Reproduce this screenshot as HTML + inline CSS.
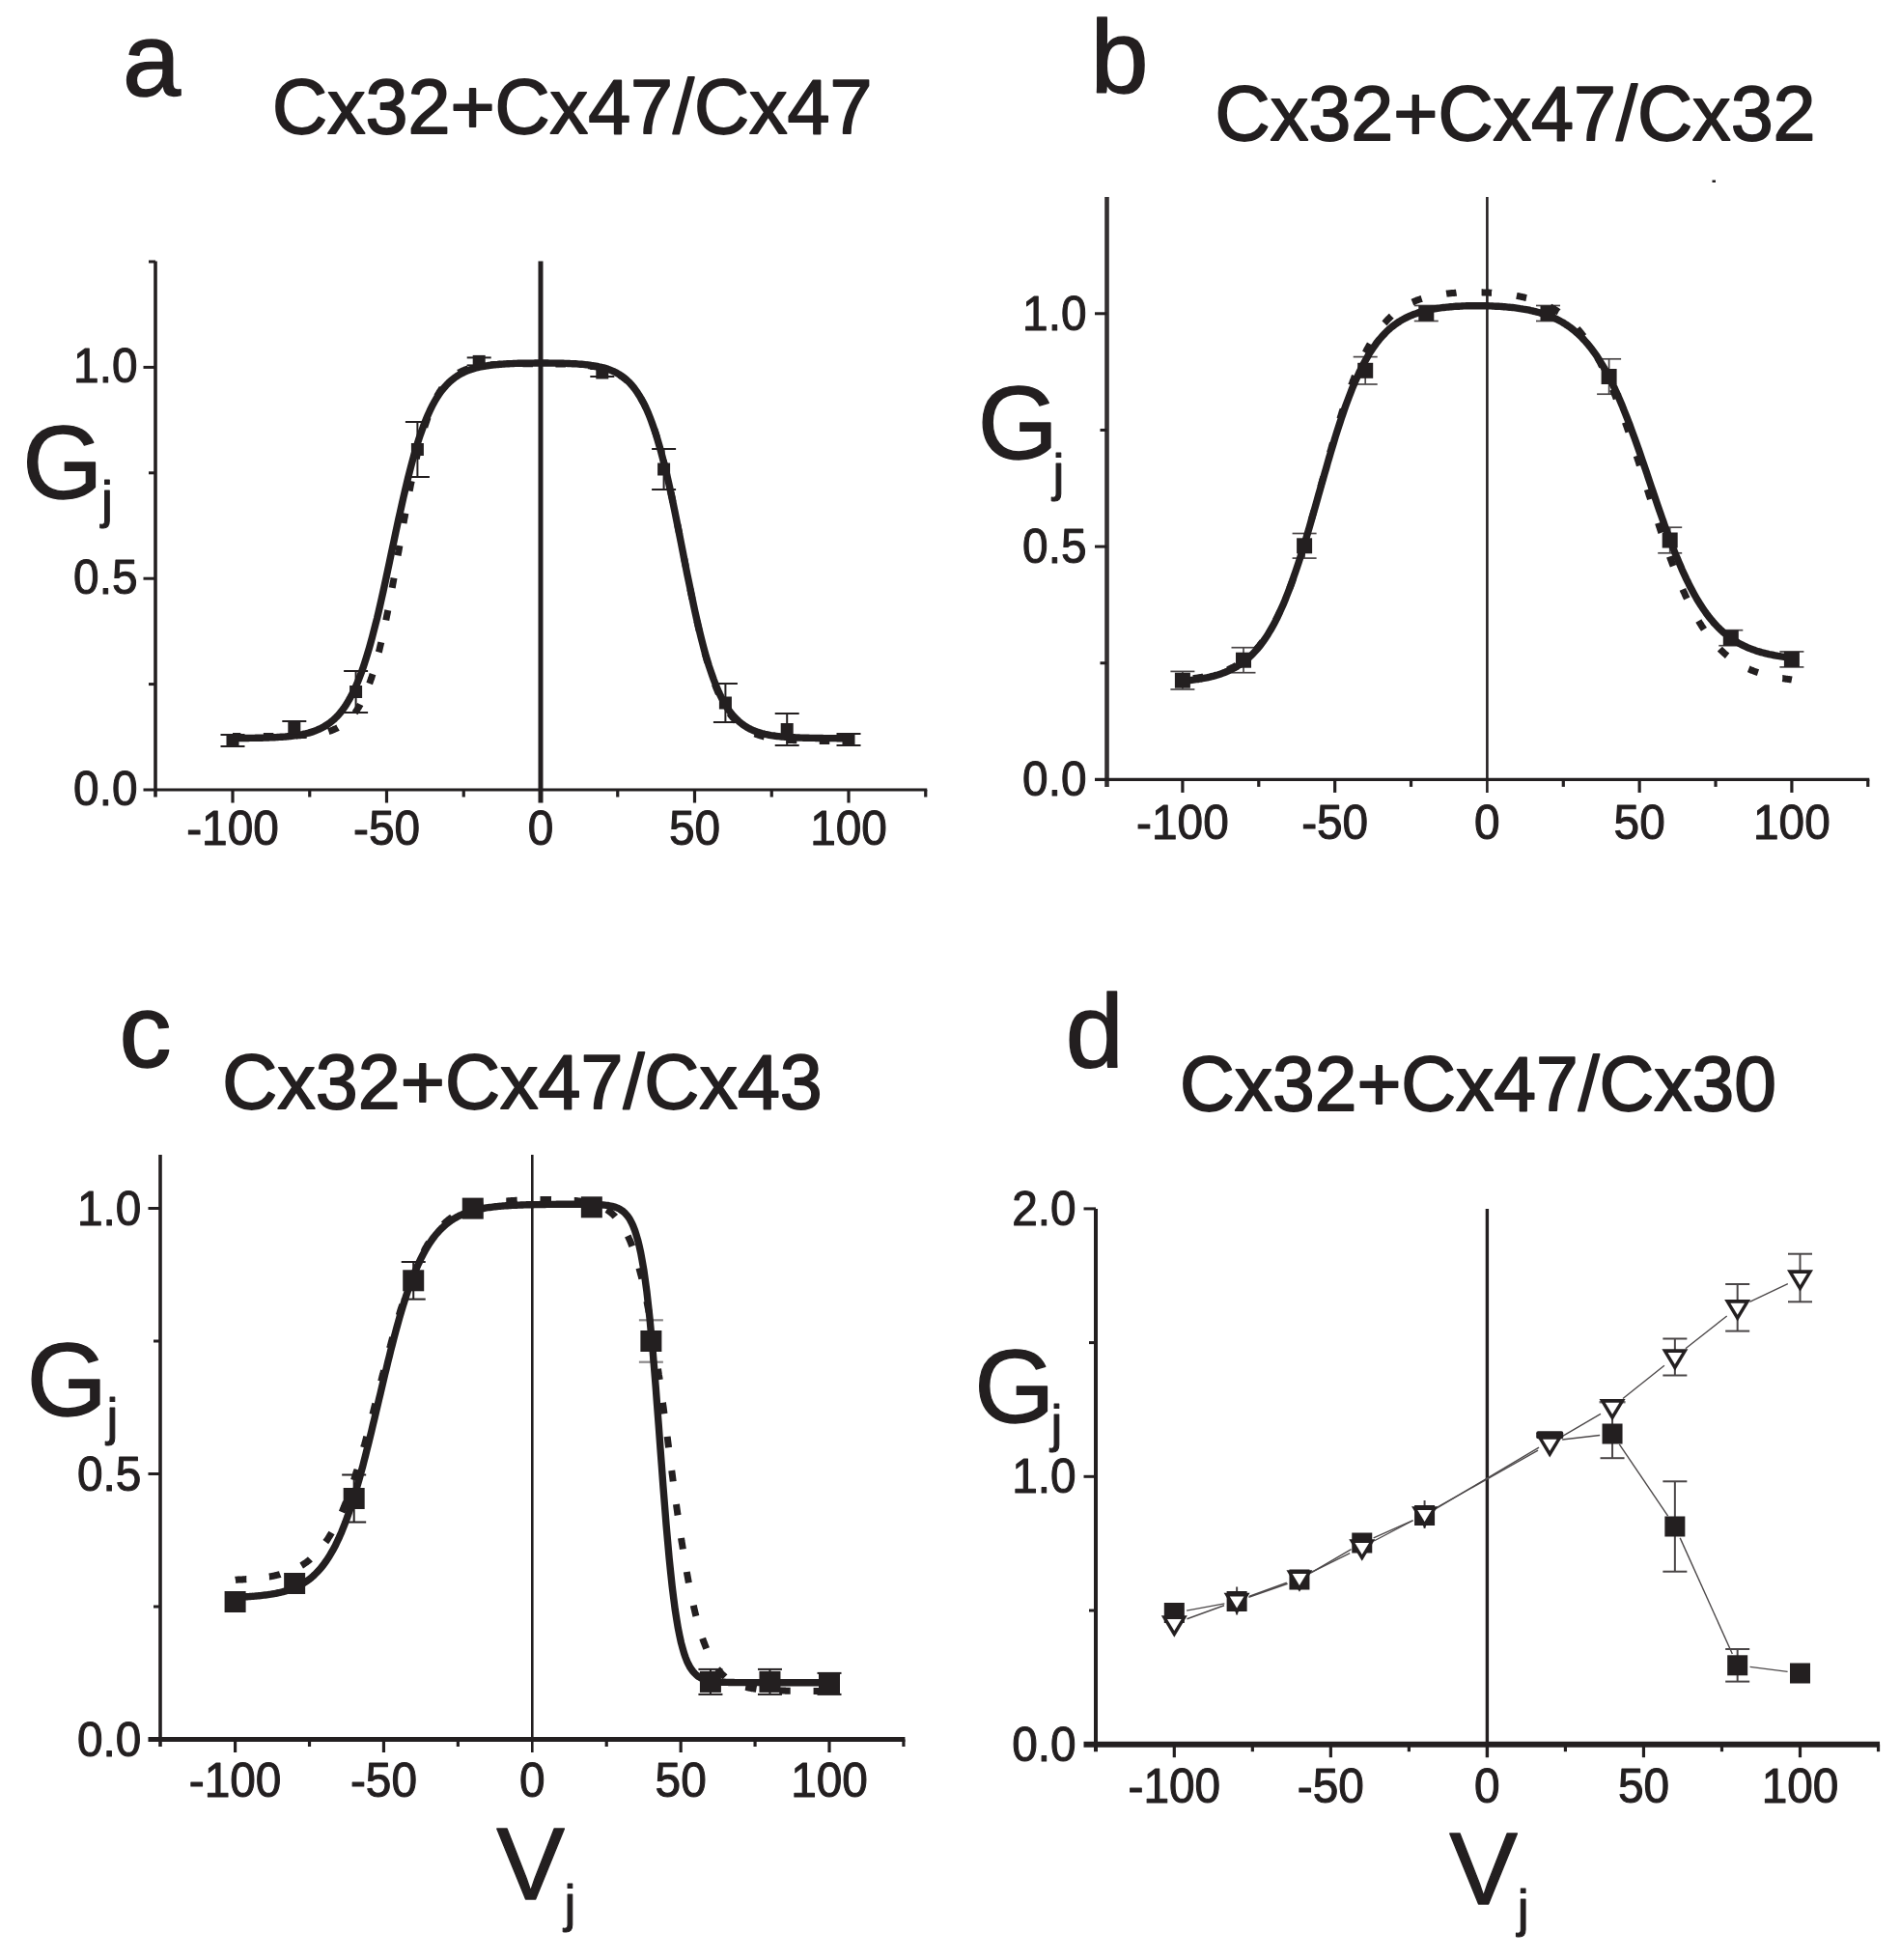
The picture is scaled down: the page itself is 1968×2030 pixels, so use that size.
<!DOCTYPE html>
<html lang="en"><head><meta charset="utf-8"><title>Gj-Vj relations</title>
<style>
html,body{margin:0;padding:0;background:#fff;}
svg{display:block;}
svg text{font-family:"Liberation Sans",sans-serif;fill:#231f20;stroke:#231f20;stroke-linejoin:round;}
</style></head><body>
<svg width="1968" height="2030" viewBox="0 0 1968 2030">
<rect width="1968" height="2030" fill="#fff"/>
<line x1="161.00" y1="270.50" x2="161.00" y2="825.50" stroke="#231f20" stroke-width="3.6" />
<line x1="148.50" y1="818.00" x2="960.25" y2="818.00" stroke="#231f20" stroke-width="3.2" />
<line x1="560.00" y1="270.50" x2="560.00" y2="831.50" stroke="#231f20" stroke-width="5.0" />
<text transform="translate(142.50 834.00) scale(0.985 1.04)" font-size="48.5" stroke-width="1.07" text-anchor="end" >0.0</text>
<line x1="148.50" y1="599.20" x2="161.00" y2="599.20" stroke="#231f20" stroke-width="3.0" />
<text transform="translate(142.50 615.20) scale(0.985 1.04)" font-size="48.5" stroke-width="1.07" text-anchor="end" >0.5</text>
<line x1="148.50" y1="380.40" x2="161.00" y2="380.40" stroke="#231f20" stroke-width="3.0" />
<text transform="translate(142.50 396.40) scale(0.985 1.04)" font-size="48.5" stroke-width="1.07" text-anchor="end" >1.0</text>
<line x1="154.00" y1="708.60" x2="161.00" y2="708.60" stroke="#231f20" stroke-width="3.0" />
<line x1="154.00" y1="489.80" x2="161.00" y2="489.80" stroke="#231f20" stroke-width="3.0" />
<line x1="154.00" y1="271.00" x2="161.00" y2="271.00" stroke="#231f20" stroke-width="3.0" />
<line x1="241.00" y1="818.00" x2="241.00" y2="831.50" stroke="#231f20" stroke-width="3.2" />
<line x1="400.50" y1="818.00" x2="400.50" y2="831.50" stroke="#231f20" stroke-width="3.2" />
<line x1="719.50" y1="818.00" x2="719.50" y2="831.50" stroke="#231f20" stroke-width="3.2" />
<line x1="879.00" y1="818.00" x2="879.00" y2="831.50" stroke="#231f20" stroke-width="3.2" />
<line x1="320.75" y1="818.00" x2="320.75" y2="825.50" stroke="#231f20" stroke-width="3.2" />
<line x1="480.25" y1="818.00" x2="480.25" y2="825.50" stroke="#231f20" stroke-width="3.2" />
<line x1="639.75" y1="818.00" x2="639.75" y2="825.50" stroke="#231f20" stroke-width="3.2" />
<line x1="799.25" y1="818.00" x2="799.25" y2="825.50" stroke="#231f20" stroke-width="3.2" />
<line x1="958.75" y1="818.00" x2="958.75" y2="825.50" stroke="#231f20" stroke-width="3.2" />
<text transform="translate(241.00 875.00) scale(0.985 1.04)" font-size="48.5" stroke-width="1.07" text-anchor="middle" >-100</text>
<text transform="translate(400.50 875.00) scale(0.985 1.04)" font-size="48.5" stroke-width="1.07" text-anchor="middle" >-50</text>
<text transform="translate(560.00 875.00) scale(0.985 1.04)" font-size="48.5" stroke-width="1.07" text-anchor="middle" >0</text>
<text transform="translate(719.50 875.00) scale(0.985 1.04)" font-size="48.5" stroke-width="1.07" text-anchor="middle" >50</text>
<text transform="translate(879.00 875.00) scale(0.985 1.04)" font-size="48.5" stroke-width="1.07" text-anchor="middle" >100</text>
<line x1="1146.50" y1="204.00" x2="1146.50" y2="814.90" stroke="#343031" stroke-width="4.6" />
<line x1="1134.00" y1="807.40" x2="1936.28" y2="807.40" stroke="#231f20" stroke-width="3.2" />
<line x1="1540.40" y1="204.00" x2="1540.40" y2="820.90" stroke="#231f20" stroke-width="2.6" />
<text transform="translate(1125.50 824.40) scale(0.985 1.04)" font-size="48.5" stroke-width="1.07" text-anchor="end" >0.0</text>
<line x1="1134.00" y1="566.10" x2="1146.50" y2="566.10" stroke="#231f20" stroke-width="3.0" />
<text transform="translate(1125.50 583.10) scale(0.985 1.04)" font-size="48.5" stroke-width="1.07" text-anchor="end" >0.5</text>
<line x1="1134.00" y1="324.80" x2="1146.50" y2="324.80" stroke="#231f20" stroke-width="3.0" />
<text transform="translate(1125.50 341.80) scale(0.985 1.04)" font-size="48.5" stroke-width="1.07" text-anchor="end" >1.0</text>
<line x1="1139.50" y1="686.75" x2="1146.50" y2="686.75" stroke="#231f20" stroke-width="3.0" />
<line x1="1139.50" y1="445.45" x2="1146.50" y2="445.45" stroke="#231f20" stroke-width="3.0" />
<line x1="1224.90" y1="807.40" x2="1224.90" y2="820.90" stroke="#231f20" stroke-width="3.2" />
<line x1="1382.65" y1="807.40" x2="1382.65" y2="820.90" stroke="#231f20" stroke-width="3.2" />
<line x1="1698.15" y1="807.40" x2="1698.15" y2="820.90" stroke="#231f20" stroke-width="3.2" />
<line x1="1855.90" y1="807.40" x2="1855.90" y2="820.90" stroke="#231f20" stroke-width="3.2" />
<line x1="1303.78" y1="807.40" x2="1303.78" y2="814.90" stroke="#231f20" stroke-width="3.2" />
<line x1="1461.53" y1="807.40" x2="1461.53" y2="814.90" stroke="#231f20" stroke-width="3.2" />
<line x1="1619.28" y1="807.40" x2="1619.28" y2="814.90" stroke="#231f20" stroke-width="3.2" />
<line x1="1777.03" y1="807.40" x2="1777.03" y2="814.90" stroke="#231f20" stroke-width="3.2" />
<line x1="1934.78" y1="807.40" x2="1934.78" y2="814.90" stroke="#231f20" stroke-width="3.2" />
<text transform="translate(1224.90 869.00) scale(0.985 1.04)" font-size="48.5" stroke-width="1.07" text-anchor="middle" >-100</text>
<text transform="translate(1382.65 869.00) scale(0.985 1.04)" font-size="48.5" stroke-width="1.07" text-anchor="middle" >-50</text>
<text transform="translate(1540.40 869.00) scale(0.985 1.04)" font-size="48.5" stroke-width="1.07" text-anchor="middle" >0</text>
<text transform="translate(1698.15 869.00) scale(0.985 1.04)" font-size="48.5" stroke-width="1.07" text-anchor="middle" >50</text>
<text transform="translate(1855.90 869.00) scale(0.985 1.04)" font-size="48.5" stroke-width="1.07" text-anchor="middle" >100</text>
<line x1="166.00" y1="1196.00" x2="166.00" y2="1809.00" stroke="#231f20" stroke-width="3.6" />
<line x1="153.50" y1="1801.50" x2="937.42" y2="1801.50" stroke="#231f20" stroke-width="5.2" />
<line x1="551.30" y1="1196.00" x2="551.30" y2="1815.00" stroke="#231f20" stroke-width="2.6" />
<text transform="translate(146.30 1818.50) scale(0.985 1.04)" font-size="48.5" stroke-width="1.07" text-anchor="end" >0.0</text>
<line x1="153.50" y1="1526.50" x2="166.00" y2="1526.50" stroke="#231f20" stroke-width="3.0" />
<text transform="translate(146.30 1543.50) scale(0.985 1.04)" font-size="48.5" stroke-width="1.07" text-anchor="end" >0.5</text>
<line x1="153.50" y1="1251.50" x2="166.00" y2="1251.50" stroke="#231f20" stroke-width="3.0" />
<text transform="translate(146.30 1268.50) scale(0.985 1.04)" font-size="48.5" stroke-width="1.07" text-anchor="end" >1.0</text>
<line x1="159.00" y1="1664.00" x2="166.00" y2="1664.00" stroke="#231f20" stroke-width="3.0" />
<line x1="159.00" y1="1389.00" x2="166.00" y2="1389.00" stroke="#231f20" stroke-width="3.0" />
<line x1="243.60" y1="1801.50" x2="243.60" y2="1815.00" stroke="#231f20" stroke-width="3.2" />
<line x1="397.45" y1="1801.50" x2="397.45" y2="1815.00" stroke="#231f20" stroke-width="3.2" />
<line x1="705.15" y1="1801.50" x2="705.15" y2="1815.00" stroke="#231f20" stroke-width="3.2" />
<line x1="859.00" y1="1801.50" x2="859.00" y2="1815.00" stroke="#231f20" stroke-width="3.2" />
<line x1="320.52" y1="1801.50" x2="320.52" y2="1809.00" stroke="#231f20" stroke-width="3.2" />
<line x1="474.37" y1="1801.50" x2="474.37" y2="1809.00" stroke="#231f20" stroke-width="3.2" />
<line x1="628.22" y1="1801.50" x2="628.22" y2="1809.00" stroke="#231f20" stroke-width="3.2" />
<line x1="782.07" y1="1801.50" x2="782.07" y2="1809.00" stroke="#231f20" stroke-width="3.2" />
<line x1="935.92" y1="1801.50" x2="935.92" y2="1809.00" stroke="#231f20" stroke-width="3.2" />
<text transform="translate(243.60 1860.50) scale(0.985 1.04)" font-size="48.5" stroke-width="1.07" text-anchor="middle" >-100</text>
<text transform="translate(397.45 1860.50) scale(0.985 1.04)" font-size="48.5" stroke-width="1.07" text-anchor="middle" >-50</text>
<text transform="translate(551.30 1860.50) scale(0.985 1.04)" font-size="48.5" stroke-width="1.07" text-anchor="middle" >0</text>
<text transform="translate(705.15 1860.50) scale(0.985 1.04)" font-size="48.5" stroke-width="1.07" text-anchor="middle" >50</text>
<text transform="translate(859.00 1860.50) scale(0.985 1.04)" font-size="48.5" stroke-width="1.07" text-anchor="middle" >100</text>
<line x1="1135.00" y1="1252.00" x2="1135.00" y2="1814.20" stroke="#231f20" stroke-width="4.0" />
<line x1="1122.50" y1="1806.70" x2="1947.03" y2="1806.70" stroke="#231f20" stroke-width="6.0" />
<line x1="1540.40" y1="1252.00" x2="1540.40" y2="1820.20" stroke="#231f20" stroke-width="3.4" />
<text transform="translate(1114.60 1823.70) scale(0.985 1.04)" font-size="48.5" stroke-width="1.07" text-anchor="end" >0.0</text>
<line x1="1122.50" y1="1529.30" x2="1135.00" y2="1529.30" stroke="#231f20" stroke-width="3.0" />
<text transform="translate(1114.60 1546.30) scale(0.985 1.04)" font-size="48.5" stroke-width="1.07" text-anchor="end" >1.0</text>
<line x1="1122.50" y1="1251.90" x2="1135.00" y2="1251.90" stroke="#231f20" stroke-width="3.0" />
<text transform="translate(1114.60 1268.90) scale(0.985 1.04)" font-size="48.5" stroke-width="1.07" text-anchor="end" >2.0</text>
<line x1="1128.00" y1="1668.00" x2="1135.00" y2="1668.00" stroke="#231f20" stroke-width="3.0" />
<line x1="1128.00" y1="1390.60" x2="1135.00" y2="1390.60" stroke="#231f20" stroke-width="3.0" />
<line x1="1216.30" y1="1806.70" x2="1216.30" y2="1820.20" stroke="#231f20" stroke-width="3.2" />
<line x1="1378.35" y1="1806.70" x2="1378.35" y2="1820.20" stroke="#231f20" stroke-width="3.2" />
<line x1="1702.45" y1="1806.70" x2="1702.45" y2="1820.20" stroke="#231f20" stroke-width="3.2" />
<line x1="1864.50" y1="1806.70" x2="1864.50" y2="1820.20" stroke="#231f20" stroke-width="3.2" />
<line x1="1297.33" y1="1806.70" x2="1297.33" y2="1814.20" stroke="#231f20" stroke-width="3.2" />
<line x1="1459.38" y1="1806.70" x2="1459.38" y2="1814.20" stroke="#231f20" stroke-width="3.2" />
<line x1="1621.43" y1="1806.70" x2="1621.43" y2="1814.20" stroke="#231f20" stroke-width="3.2" />
<line x1="1783.48" y1="1806.70" x2="1783.48" y2="1814.20" stroke="#231f20" stroke-width="3.2" />
<line x1="1945.53" y1="1806.70" x2="1945.53" y2="1814.20" stroke="#231f20" stroke-width="3.2" />
<text transform="translate(1216.30 1867.00) scale(0.985 1.04)" font-size="48.5" stroke-width="1.07" text-anchor="middle" >-100</text>
<text transform="translate(1378.35 1867.00) scale(0.985 1.04)" font-size="48.5" stroke-width="1.07" text-anchor="middle" >-50</text>
<text transform="translate(1540.40 1867.00) scale(0.985 1.04)" font-size="48.5" stroke-width="1.07" text-anchor="middle" >0</text>
<text transform="translate(1702.45 1867.00) scale(0.985 1.04)" font-size="48.5" stroke-width="1.07" text-anchor="middle" >50</text>
<text transform="translate(1864.50 1867.00) scale(0.985 1.04)" font-size="48.5" stroke-width="1.07" text-anchor="middle" >100</text>
<text x="281.90" y="137.70" font-size="80" stroke-width="1.76" textLength="621.6" lengthAdjust="spacingAndGlyphs">Cx32+Cx47/Cx47</text>
<text x="1258.60" y="144.80" font-size="80" stroke-width="1.76" textLength="622.0" lengthAdjust="spacingAndGlyphs">Cx32+Cx47/Cx32</text>
<text x="230.30" y="1147.80" font-size="80" stroke-width="1.76" textLength="621.5" lengthAdjust="spacingAndGlyphs">Cx32+Cx47/Cx43</text>
<text x="1222.00" y="1149.80" font-size="80" stroke-width="1.76" textLength="618.0" lengthAdjust="spacingAndGlyphs">Cx32+Cx47/Cx30</text>
<text x="127.00" y="99.30" font-size="108" stroke-width="1.51" text-anchor="start" >a</text>
<text x="1129.50" y="95.80" font-size="108" stroke-width="1.51" text-anchor="start" >b</text>
<text x="123.40" y="1104.80" font-size="108" stroke-width="1.51" text-anchor="start" >c</text>
<text x="1103.80" y="1104.80" font-size="108" stroke-width="1.51" text-anchor="start" >d</text>
<text x="23.26" y="515.80" font-size="107" stroke-width="1.28" text-anchor="start" >G</text>
<text x="105.06" y="536.37" font-size="53.5" stroke-width="1.07" text-anchor="start" >j</text>
<text x="1012.86" y="475.00" font-size="107" stroke-width="1.28" text-anchor="start" >G</text>
<text x="1090.46" y="508.26" font-size="53.5" stroke-width="1.07" text-anchor="start" >j</text>
<text x="27.86" y="1466.00" font-size="107" stroke-width="1.28" text-anchor="start" >G</text>
<text x="110.46" y="1486.17" font-size="53.5" stroke-width="1.07" text-anchor="start" >j</text>
<text x="1009.36" y="1473.40" font-size="107" stroke-width="1.28" text-anchor="start" >G</text>
<text x="1088.46" y="1492.77" font-size="53.5" stroke-width="1.07" text-anchor="start" >j</text>
<text x="514.17" y="1966.60" font-size="106" stroke-width="1.27" text-anchor="start" >V</text>
<text x="584.46" y="1990.27" font-size="53.5" stroke-width="1.07" text-anchor="start" >j</text>
<text x="1501.17" y="1971.50" font-size="106" stroke-width="1.27" text-anchor="start" >V</text>
<text x="1571.76" y="1995.37" font-size="53.5" stroke-width="1.07" text-anchor="start" >j</text>
<line x1="241.00" y1="761.00" x2="241.00" y2="773.00" stroke="#231f20" stroke-width="2.0" />
<line x1="228.50" y1="761.00" x2="253.50" y2="761.00" stroke="#231f20" stroke-width="2.0" />
<line x1="228.50" y1="773.00" x2="253.50" y2="773.00" stroke="#231f20" stroke-width="2.0" />
<line x1="304.80" y1="747.00" x2="304.80" y2="761.00" stroke="#231f20" stroke-width="2.0" />
<line x1="292.30" y1="747.00" x2="317.30" y2="747.00" stroke="#231f20" stroke-width="2.0" />
<line x1="292.30" y1="761.00" x2="317.30" y2="761.00" stroke="#231f20" stroke-width="2.0" />
<line x1="368.60" y1="695.00" x2="368.60" y2="738.00" stroke="#231f20" stroke-width="2.0" />
<line x1="356.10" y1="695.00" x2="381.10" y2="695.00" stroke="#231f20" stroke-width="2.0" />
<line x1="356.10" y1="738.00" x2="381.10" y2="738.00" stroke="#231f20" stroke-width="2.0" />
<line x1="432.40" y1="437.00" x2="432.40" y2="494.00" stroke="#231f20" stroke-width="2.0" />
<line x1="419.90" y1="437.00" x2="444.90" y2="437.00" stroke="#231f20" stroke-width="2.0" />
<line x1="419.90" y1="494.00" x2="444.90" y2="494.00" stroke="#231f20" stroke-width="2.0" />
<line x1="496.20" y1="370.40" x2="496.20" y2="378.40" stroke="#231f20" stroke-width="2.0" />
<line x1="483.70" y1="370.40" x2="508.70" y2="370.40" stroke="#231f20" stroke-width="2.0" />
<line x1="483.70" y1="378.40" x2="508.70" y2="378.40" stroke="#231f20" stroke-width="2.0" />
<line x1="623.80" y1="382.00" x2="623.80" y2="390.00" stroke="#231f20" stroke-width="2.0" />
<line x1="611.30" y1="382.00" x2="636.30" y2="382.00" stroke="#231f20" stroke-width="2.0" />
<line x1="611.30" y1="390.00" x2="636.30" y2="390.00" stroke="#231f20" stroke-width="2.0" />
<line x1="687.60" y1="465.00" x2="687.60" y2="507.00" stroke="#231f20" stroke-width="2.0" />
<line x1="675.10" y1="465.00" x2="700.10" y2="465.00" stroke="#231f20" stroke-width="2.0" />
<line x1="675.10" y1="507.00" x2="700.10" y2="507.00" stroke="#231f20" stroke-width="2.0" />
<line x1="751.40" y1="708.00" x2="751.40" y2="748.00" stroke="#231f20" stroke-width="2.0" />
<line x1="738.90" y1="708.00" x2="763.90" y2="708.00" stroke="#231f20" stroke-width="2.0" />
<line x1="738.90" y1="748.00" x2="763.90" y2="748.00" stroke="#231f20" stroke-width="2.0" />
<line x1="815.20" y1="739.00" x2="815.20" y2="772.00" stroke="#231f20" stroke-width="2.0" />
<line x1="802.70" y1="739.00" x2="827.70" y2="739.00" stroke="#231f20" stroke-width="2.0" />
<line x1="802.70" y1="772.00" x2="827.70" y2="772.00" stroke="#231f20" stroke-width="2.0" />
<line x1="879.00" y1="760.00" x2="879.00" y2="772.00" stroke="#231f20" stroke-width="2.0" />
<line x1="866.50" y1="760.00" x2="891.50" y2="760.00" stroke="#231f20" stroke-width="2.0" />
<line x1="866.50" y1="772.00" x2="891.50" y2="772.00" stroke="#231f20" stroke-width="2.0" />
<path d="M241.0 762.6 L241.5 762.6 L242.1 762.6 L242.6 762.6 L243.1 762.6 L243.7 762.6 L244.2 762.6 L244.7 762.6 L245.3 762.6 L245.8 762.6 L246.3 762.6 L246.9 762.6 L247.4 762.6 L247.9 762.6 L248.4 762.6 L249.0 762.6 L249.5 762.6 L250.0 762.6 L250.6 762.6 L251.1 762.6 L251.6 762.6 L252.2 762.6 L252.7 762.6 L253.2 762.6 L253.8 762.6 L254.3 762.6 L254.8 762.6 L255.4 762.6 L255.9 762.6 L256.4 762.6 L257.0 762.6 L257.5 762.6 L258.0 762.5 L258.6 762.5 L259.1 762.5 L259.6 762.5 L260.2 762.5 L260.7 762.5 L261.2 762.5 L261.8 762.5 L262.3 762.5 L262.8 762.5 L263.3 762.5 L263.9 762.5 L264.4 762.5 L264.9 762.5 L265.5 762.5 L266.0 762.5 L266.5 762.5 L267.1 762.5 L267.6 762.5 L268.1 762.5 L268.7 762.5 L269.2 762.5 L269.7 762.5 L270.3 762.5 L270.8 762.5 L271.3 762.5 L271.9 762.5 L272.4 762.5 L272.9 762.5 L273.5 762.5 L274.0 762.5 L274.5 762.5 L275.1 762.5 L275.6 762.5 L276.1 762.5 L276.7 762.5 L277.2 762.5 L277.7 762.5 L278.2 762.5 L278.8 762.5 L279.3 762.4 L279.8 762.4 L280.4 762.4 L280.9 762.4 L281.4 762.4 L282.0 762.4 L282.5 762.4 L283.0 762.4 L283.6 762.4 L284.1 762.4 L284.6 762.4 L285.2 762.4 L285.7 762.4 L286.2 762.4 L286.8 762.4 L287.3 762.4 L287.8 762.4 L288.4 762.4 L288.9 762.3 L289.4 762.3 L290.0 762.3 L290.5 762.3 L291.0 762.3 L291.6 762.3 L292.1 762.3 L292.6 762.3 L293.1 762.3 L293.7 762.3 L294.2 762.3 L294.7 762.2 L295.3 762.2 L295.8 762.2 L296.3 762.2 L296.9 762.2 L297.4 762.2 L297.9 762.2 L298.5 762.2 L299.0 762.1 L299.5 762.1 L300.1 762.1 L300.6 762.1 L301.1 762.1 L301.7 762.1 L302.2 762.0 L302.7 762.0 L303.3 762.0 L303.8 762.0 L304.3 762.0 L304.9 762.0 L305.4 761.9 L305.9 761.9 L306.4 761.9 L307.0 761.9 L307.5 761.9 L308.0 761.8 L308.6 761.8 L309.1 761.8 L309.6 761.8 L310.2 761.7 L310.7 761.7 L311.2 761.7 L311.8 761.6 L312.3 761.6 L312.8 761.6 L313.4 761.5 L313.9 761.5 L314.4 761.5 L315.0 761.4 L315.5 761.4 L316.0 761.4 L316.6 761.3 L317.1 761.3 L317.6 761.2 L318.2 761.2 L318.7 761.2 L319.2 761.1 L319.8 761.1 L320.3 761.0 L320.8 761.0 L321.3 760.9 L321.9 760.9 L322.4 760.8 L322.9 760.8 L323.5 760.7 L324.0 760.6 L324.5 760.6 L325.1 760.5 L325.6 760.4 L326.1 760.4 L326.7 760.3 L327.2 760.2 L327.7 760.2 L328.3 760.1 L328.8 760.0 L329.3 759.9 L329.9 759.8 L330.4 759.7 L330.9 759.6 L331.5 759.6 L332.0 759.5 L332.5 759.4 L333.1 759.3 L333.6 759.2 L334.1 759.0 L334.7 758.9 L335.2 758.8 L335.7 758.7 L336.2 758.6 L336.8 758.4 L337.3 758.3 L337.8 758.2 L338.4 758.0 L338.9 757.9 L339.4 757.7 L340.0 757.6 L340.5 757.4 L341.0 757.3 L341.6 757.1 L342.1 756.9 L342.6 756.8 L343.2 756.6 L343.7 756.4 L344.2 756.2 L344.8 756.0 L345.3 755.8 L345.8 755.6 L346.4 755.3 L346.9 755.1 L347.4 754.9 L348.0 754.6 L348.5 754.4 L349.0 754.1 L349.6 753.9 L350.1 753.6 L350.6 753.3 L351.1 753.0 L351.7 752.7 L352.2 752.4 L352.7 752.1 L353.3 751.8 L353.8 751.4 L354.3 751.1 L354.9 750.7 L355.4 750.4 L355.9 750.0 L356.5 749.6 L357.0 749.2 L357.5 748.8 L358.1 748.3 L358.6 747.9 L359.1 747.5 L359.7 747.0 L360.2 746.5 L360.7 746.0 L361.3 745.5 L361.8 745.0 L362.3 744.5 L362.9 743.9 L363.4 743.3 L363.9 742.8 L364.4 742.1 L365.0 741.5 L365.5 740.9 L366.0 740.2 L366.6 739.6 L367.1 738.9 L367.6 738.2 L368.2 737.4 L368.7 736.7 L369.2 735.9 L369.8 735.1 L370.3 734.3 L370.8 733.5 L371.4 732.6 L371.9 731.7 L372.4 730.8 L373.0 729.9 L373.5 728.9 L374.0 727.9 L374.6 726.9 L375.1 725.9 L375.6 724.8 L376.2 723.8 L376.7 722.6 L377.2 721.5 L377.8 720.3 L378.3 719.1 L378.8 717.9 L379.3 716.6 L379.9 715.3 L380.4 714.0 L380.9 712.7 L381.5 711.3 L382.0 709.9 L382.5 708.4 L383.1 706.9 L383.6 705.4 L384.1 703.9 L384.7 702.3 L385.2 700.7 L385.7 699.0 L386.3 697.3 L386.8 695.6 L387.3 693.8 L387.9 692.0 L388.4 690.2 L388.9 688.3 L389.5 686.4 L390.0 684.4 L390.5 682.5 L391.1 680.4 L391.6 678.4 L392.1 676.3 L392.7 674.2 L393.2 672.0 L393.7 669.8 L394.2 667.6 L394.8 665.3 L395.3 663.0 L395.8 660.6 L396.4 658.2 L396.9 655.8 L397.4 653.4 L398.0 650.9 L398.5 648.4 L399.0 645.8 L399.6 643.2 L400.1 640.6 L400.6 638.0 L401.2 635.3 L401.7 632.6 L402.2 629.9 L402.8 627.1 L403.3 624.3 L403.8 621.5 L404.4 618.7 L404.9 615.8 L405.4 612.9 L406.0 610.0 L406.5 607.1 L407.0 604.2 L407.6 601.2 L408.1 598.3 L408.6 595.3 L409.1 592.3 L409.7 589.3 L410.2 586.3 L410.7 583.3 L411.3 580.2 L411.8 577.2 L412.3 574.1 L412.9 571.1 L413.4 568.1 L413.9 565.0 L414.5 562.0 L415.0 558.9 L415.5 555.9 L416.1 552.9 L416.6 549.9 L417.1 546.9 L417.7 543.9 L418.2 540.9 L418.7 537.9 L419.3 535.0 L419.8 532.0 L420.3 529.1 L420.9 526.2 L421.4 523.3 L421.9 520.5 L422.4 517.7 L423.0 514.8 L423.5 512.1 L424.0 509.3 L424.6 506.6 L425.1 503.9 L425.6 501.2 L426.2 498.5 L426.7 495.9 L427.2 493.3 L427.8 490.8 L428.3 488.3 L428.8 485.8 L429.4 483.3 L429.9 480.9 L430.4 478.5 L431.0 476.2 L431.5 473.9 L432.0 471.6 L432.6 469.3 L433.1 467.1 L433.6 465.0 L434.2 462.8 L434.7 460.7 L435.2 458.7 L435.8 456.7 L436.3 454.7 L436.8 452.7 L437.3 450.8 L437.9 448.9 L438.4 447.1 L438.9 445.3 L439.5 443.5 L440.0 441.8 L440.5 440.1 L441.1 438.5 L441.6 436.8 L442.1 435.3 L442.7 433.7 L443.2 432.2 L443.7 430.7 L444.3 429.2 L444.8 427.8 L445.3 426.4 L445.9 425.1 L446.4 423.8 L446.9 422.5 L447.5 421.2 L448.0 420.0 L448.5 418.8 L449.1 417.6 L449.6 416.4 L450.1 415.3 L450.7 414.2 L451.2 413.2 L451.7 412.1 L452.2 411.1 L452.8 410.2 L453.3 409.2 L453.8 408.3 L454.4 407.4 L454.9 406.5 L455.4 405.6 L456.0 404.8 L456.5 404.0 L457.0 403.2 L457.6 402.4 L458.1 401.6 L458.6 400.9 L459.2 400.2 L459.7 399.5 L460.2 398.8 L460.8 398.2 L461.3 397.5 L461.8 396.9 L462.4 396.3 L462.9 395.7 L463.4 395.2 L464.0 394.6 L464.5 394.1 L465.0 393.6 L465.6 393.0 L466.1 392.6 L466.6 392.1 L467.1 391.6 L467.7 391.2 L468.2 390.7 L468.7 390.3 L469.3 389.9 L469.8 389.5 L470.3 389.1 L470.9 388.7 L471.4 388.3 L471.9 388.0 L472.5 387.6 L473.0 387.3 L473.5 387.0 L474.1 386.6 L474.6 386.3 L475.1 386.0 L475.7 385.8 L476.2 385.5 L476.7 385.2 L477.3 384.9 L477.8 384.7 L478.3 384.4 L478.9 384.2 L479.4 383.9 L479.9 383.7 L480.4 383.5 L481.0 383.3 L481.5 383.1 L482.0 382.9 L482.6 382.7 L483.1 382.5 L483.6 382.3 L484.2 382.1 L484.7 382.0 L485.2 381.8 L485.8 381.6 L486.3 381.5 L486.8 381.3 L487.4 381.2 L487.9 381.0 L488.4 380.9 L489.0 380.7 L489.5 380.6 L490.0 380.5 L490.6 380.4 L491.1 380.2 L491.6 380.1 L492.2 380.0 L492.7 379.9 L493.2 379.8 L493.8 379.7 L494.3 379.6 L494.8 379.5 L495.3 379.4 L495.9 379.3 L496.4 379.2 L496.9 379.1 L497.5 379.1 L498.0 379.0 L498.5 378.9 L499.1 378.8 L499.6 378.8 L500.1 378.7 L500.7 378.6 L501.2 378.5 L501.7 378.5 L502.3 378.4 L502.8 378.4 L503.3 378.3 L503.9 378.2 L504.4 378.2 L504.9 378.1 L505.5 378.1 L506.0 378.0 L506.5 378.0 L507.1 377.9 L507.6 377.9 L508.1 377.9 L508.7 377.8 L509.2 377.8 L509.7 377.7 L510.2 377.7 L510.8 377.7 L511.3 377.6 L511.8 377.6 L512.4 377.5 L512.9 377.5 L513.4 377.5 L514.0 377.5 L514.5 377.4 L515.0 377.4 L515.6 377.4 L516.1 377.3 L516.6 377.3 L517.2 377.3 L517.7 377.3 L518.2 377.2 L518.8 377.2 L519.3 377.2 L519.8 377.2 L520.4 377.1 L520.9 377.1 L521.4 377.1 L522.0 377.1 L522.5 377.1 L523.0 377.1 L523.6 377.0 L524.1 377.0 L524.6 377.0 L525.1 377.0 L525.7 377.0 L526.2 377.0 L526.7 376.9 L527.3 376.9 L527.8 376.9 L528.3 376.9 L528.9 376.9 L529.4 376.9 L529.9 376.9 L530.5 376.9 L531.0 376.8 L531.5 376.8 L532.1 376.8 L532.6 376.8 L533.1 376.8 L533.7 376.8 L534.2 376.8 L534.7 376.8 L535.3 376.8 L535.8 376.8 L536.3 376.8 L536.9 376.8 L537.4 376.8 L537.9 376.7 L538.4 376.7 L539.0 376.7 L539.5 376.7 L540.0 376.7 L540.6 376.7 L541.1 376.7 L541.6 376.7 L542.2 376.7 L542.7 376.7 L543.2 376.7 L543.8 376.7 L544.3 376.7 L544.8 376.7 L545.4 376.7 L545.9 376.7 L546.4 376.7 L547.0 376.7 L547.5 376.7 L548.0 376.7 L548.6 376.7 L549.1 376.7 L549.6 376.7 L550.2 376.7 L550.7 376.7 L551.2 376.7 L551.8 376.7 L552.3 376.7 L552.8 376.7 L553.3 376.7 L553.9 376.7 L554.4 376.7 L554.9 376.7 L555.5 376.7 L556.0 376.7 L556.5 376.7 L557.1 376.7 L557.6 376.7 L558.1 376.7 L558.7 376.7 L559.2 376.7 L559.7 376.7 L560.3 376.7 L560.8 376.7 L561.3 376.7 L561.9 376.7 L562.4 376.7 L562.9 376.7 L563.5 376.7 L564.0 376.7 L564.5 376.7 L565.1 376.7 L565.6 376.7 L566.1 376.7 L566.7 376.7 L567.2 376.7 L567.7 376.7 L568.2 376.8 L568.8 376.8 L569.3 376.8 L569.8 376.8 L570.4 376.8 L570.9 376.8 L571.4 376.8 L572.0 376.8 L572.5 376.8 L573.0 376.8 L573.6 376.8 L574.1 376.8 L574.6 376.8 L575.2 376.9 L575.7 376.9 L576.2 376.9 L576.8 376.9 L577.3 376.9 L577.8 376.9 L578.4 376.9 L578.9 376.9 L579.4 376.9 L580.0 377.0 L580.5 377.0 L581.0 377.0 L581.6 377.0 L582.1 377.0 L582.6 377.0 L583.1 377.0 L583.7 377.1 L584.2 377.1 L584.7 377.1 L585.3 377.1 L585.8 377.1 L586.3 377.1 L586.9 377.2 L587.4 377.2 L587.9 377.2 L588.5 377.2 L589.0 377.2 L589.5 377.3 L590.1 377.3 L590.6 377.3 L591.1 377.3 L591.7 377.4 L592.2 377.4 L592.7 377.4 L593.3 377.4 L593.8 377.5 L594.3 377.5 L594.9 377.5 L595.4 377.5 L595.9 377.6 L596.4 377.6 L597.0 377.6 L597.5 377.7 L598.0 377.7 L598.6 377.7 L599.1 377.8 L599.6 377.8 L600.2 377.9 L600.7 377.9 L601.2 377.9 L601.8 378.0 L602.3 378.0 L602.8 378.1 L603.4 378.1 L603.9 378.2 L604.4 378.2 L605.0 378.3 L605.5 378.3 L606.0 378.4 L606.6 378.4 L607.1 378.5 L607.6 378.5 L608.2 378.6 L608.7 378.6 L609.2 378.7 L609.8 378.8 L610.3 378.8 L610.8 378.9 L611.3 379.0 L611.9 379.0 L612.4 379.1 L612.9 379.2 L613.5 379.3 L614.0 379.3 L614.5 379.4 L615.1 379.5 L615.6 379.6 L616.1 379.7 L616.7 379.8 L617.2 379.9 L617.7 380.0 L618.3 380.1 L618.8 380.2 L619.3 380.3 L619.9 380.4 L620.4 380.5 L620.9 380.6 L621.5 380.7 L622.0 380.8 L622.5 380.9 L623.1 381.1 L623.6 381.2 L624.1 381.3 L624.7 381.5 L625.2 381.6 L625.7 381.7 L626.2 381.9 L626.8 382.0 L627.3 382.2 L627.8 382.4 L628.4 382.5 L628.9 382.7 L629.4 382.9 L630.0 383.1 L630.5 383.2 L631.0 383.4 L631.6 383.6 L632.1 383.8 L632.6 384.0 L633.2 384.2 L633.7 384.4 L634.2 384.7 L634.8 384.9 L635.3 385.1 L635.8 385.4 L636.4 385.6 L636.9 385.9 L637.4 386.1 L638.0 386.4 L638.5 386.7 L639.0 387.0 L639.6 387.2 L640.1 387.5 L640.6 387.8 L641.1 388.2 L641.7 388.5 L642.2 388.8 L642.7 389.1 L643.3 389.5 L643.8 389.9 L644.3 390.2 L644.9 390.6 L645.4 391.0 L645.9 391.4 L646.5 391.8 L647.0 392.2 L647.5 392.6 L648.1 393.1 L648.6 393.5 L649.1 394.0 L649.7 394.4 L650.2 394.9 L650.7 395.4 L651.3 395.9 L651.8 396.5 L652.3 397.0 L652.9 397.6 L653.4 398.1 L653.9 398.7 L654.4 399.3 L655.0 399.9 L655.5 400.5 L656.0 401.2 L656.6 401.8 L657.1 402.5 L657.6 403.2 L658.2 403.9 L658.7 404.6 L659.2 405.3 L659.8 406.1 L660.3 406.9 L660.8 407.7 L661.4 408.5 L661.9 409.3 L662.4 410.2 L663.0 411.0 L663.5 411.9 L664.0 412.8 L664.6 413.8 L665.1 414.7 L665.6 415.7 L666.2 416.7 L666.7 417.7 L667.2 418.7 L667.8 419.8 L668.3 420.9 L668.8 422.0 L669.3 423.2 L669.9 424.3 L670.4 425.5 L670.9 426.7 L671.5 427.9 L672.0 429.2 L672.5 430.5 L673.1 431.8 L673.6 433.2 L674.1 434.5 L674.7 435.9 L675.2 437.3 L675.7 438.8 L676.3 440.3 L676.8 441.8 L677.3 443.3 L677.9 444.9 L678.4 446.5 L678.9 448.1 L679.5 449.7 L680.0 451.4 L680.5 453.1 L681.1 454.9 L681.6 456.6 L682.1 458.4 L682.7 460.2 L683.2 462.1 L683.7 464.0 L684.2 465.9 L684.8 467.8 L685.3 469.8 L685.8 471.8 L686.4 473.8 L686.9 475.9 L687.4 478.0 L688.0 480.1 L688.5 482.2 L689.0 484.4 L689.6 486.6 L690.1 488.8 L690.6 491.1 L691.2 493.3 L691.7 495.7 L692.2 498.0 L692.8 500.3 L693.3 502.7 L693.8 505.1 L694.4 507.5 L694.9 510.0 L695.4 512.4 L696.0 514.9 L696.5 517.4 L697.0 520.0 L697.6 522.5 L698.1 525.1 L698.6 527.7 L699.1 530.3 L699.7 532.9 L700.2 535.5 L700.7 538.2 L701.3 540.8 L701.8 543.5 L702.3 546.2 L702.9 548.9 L703.4 551.5 L703.9 554.3 L704.5 557.0 L705.0 559.7 L705.5 562.4 L706.1 565.1 L706.6 567.9 L707.1 570.6 L707.7 573.3 L708.2 576.1 L708.7 578.8 L709.3 581.5 L709.8 584.2 L710.3 587.0 L710.9 589.7 L711.4 592.4 L711.9 595.1 L712.4 597.8 L713.0 600.4 L713.5 603.1 L714.0 605.8 L714.6 608.4 L715.1 611.0 L715.6 613.7 L716.2 616.3 L716.7 618.8 L717.2 621.4 L717.8 624.0 L718.3 626.5 L718.8 629.0 L719.4 631.5 L719.9 634.0 L720.4 636.4 L721.0 638.8 L721.5 641.2 L722.0 643.6 L722.6 646.0 L723.1 648.3 L723.6 650.6 L724.2 652.9 L724.7 655.1 L725.2 657.4 L725.8 659.6 L726.3 661.7 L726.8 663.9 L727.3 666.0 L727.9 668.1 L728.4 670.1 L728.9 672.2 L729.5 674.2 L730.0 676.1 L730.5 678.1 L731.1 680.0 L731.6 681.9 L732.1 683.7 L732.7 685.6 L733.2 687.4 L733.7 689.1 L734.3 690.9 L734.8 692.6 L735.3 694.3 L735.9 695.9 L736.4 697.5 L736.9 699.1 L737.5 700.7 L738.0 702.2 L738.5 703.7 L739.1 705.2 L739.6 706.7 L740.1 708.1 L740.7 709.5 L741.2 710.8 L741.7 712.2 L742.2 713.5 L742.8 714.8 L743.3 716.1 L743.8 717.3 L744.4 718.5 L744.9 719.7 L745.4 720.9 L746.0 722.0 L746.5 723.1 L747.0 724.2 L747.6 725.3 L748.1 726.3 L748.6 727.3 L749.2 728.3 L749.7 729.3 L750.2 730.3 L750.8 731.2 L751.3 732.1 L751.8 733.0 L752.4 733.9 L752.9 734.7 L753.4 735.6 L754.0 736.4 L754.5 737.2 L755.0 737.9 L755.6 738.7 L756.1 739.4 L756.6 740.2 L757.1 740.9 L757.7 741.5 L758.2 742.2 L758.7 742.9 L759.3 743.5 L759.8 744.1 L760.3 744.7 L760.9 745.3 L761.4 745.9 L761.9 746.5 L762.5 747.0 L763.0 747.6 L763.5 748.1 L764.1 748.6 L764.6 749.1 L765.1 749.6 L765.7 750.1 L766.2 750.5 L766.7 751.0 L767.3 751.4 L767.8 751.9 L768.3 752.3 L768.9 752.7 L769.4 753.1 L769.9 753.5 L770.4 753.8 L771.0 754.2 L771.5 754.6 L772.0 754.9 L772.6 755.2 L773.1 755.6 L773.6 755.9 L774.2 756.2 L774.7 756.5 L775.2 756.8 L775.8 757.1 L776.3 757.4 L776.8 757.7 L777.4 757.9 L777.9 758.2 L778.4 758.4 L779.0 758.7 L779.5 758.9 L780.0 759.2 L780.6 759.4 L781.1 759.6 L781.6 759.8 L782.2 760.0 L782.7 760.2 L783.2 760.4 L783.8 760.6 L784.3 760.8 L784.8 761.0 L785.3 761.2 L785.9 761.4 L786.4 761.5 L786.9 761.7 L787.5 761.9 L788.0 762.0 L788.5 762.2 L789.1 762.3 L789.6 762.5 L790.1 762.6 L790.7 762.7 L791.2 762.9 L791.7 763.0 L792.3 763.1 L792.8 763.2 L793.3 763.4 L793.9 763.5 L794.4 763.6 L794.9 763.7 L795.5 763.8 L796.0 763.9 L796.5 764.0 L797.1 764.1 L797.6 764.2 L798.1 764.3 L798.7 764.4 L799.2 764.5 L799.7 764.6 L800.2 764.7 L800.8 764.7 L801.3 764.8 L801.8 764.9 L802.4 765.0 L802.9 765.0 L803.4 765.1 L804.0 765.2 L804.5 765.2 L805.0 765.3 L805.6 765.4 L806.1 765.4 L806.6 765.5 L807.2 765.6 L807.7 765.6 L808.2 765.7 L808.8 765.7 L809.3 765.8 L809.8 765.8 L810.4 765.9 L810.9 765.9 L811.4 766.0 L812.0 766.0 L812.5 766.1 L813.0 766.1 L813.6 766.1 L814.1 766.2 L814.6 766.2 L815.1 766.3 L815.7 766.3 L816.2 766.3 L816.7 766.4 L817.3 766.4 L817.8 766.4 L818.3 766.5 L818.9 766.5 L819.4 766.5 L819.9 766.6 L820.5 766.6 L821.0 766.6 L821.5 766.6 L822.1 766.7 L822.6 766.7 L823.1 766.7 L823.7 766.7 L824.2 766.8 L824.7 766.8 L825.3 766.8 L825.8 766.8 L826.3 766.9 L826.9 766.9 L827.4 766.9 L827.9 766.9 L828.4 766.9 L829.0 767.0 L829.5 767.0 L830.0 767.0 L830.6 767.0 L831.1 767.0 L831.6 767.0 L832.2 767.1 L832.7 767.1 L833.2 767.1 L833.8 767.1 L834.3 767.1 L834.8 767.1 L835.4 767.1 L835.9 767.2 L836.4 767.2 L837.0 767.2 L837.5 767.2 L838.0 767.2 L838.6 767.2 L839.1 767.2 L839.6 767.2 L840.2 767.3 L840.7 767.3 L841.2 767.3 L841.8 767.3 L842.3 767.3 L842.8 767.3 L843.3 767.3 L843.9 767.3 L844.4 767.3 L844.9 767.3 L845.5 767.3 L846.0 767.3 L846.5 767.4 L847.1 767.4 L847.6 767.4 L848.1 767.4 L848.7 767.4 L849.2 767.4 L849.7 767.4 L850.3 767.4 L850.8 767.4 L851.3 767.4 L851.9 767.4 L852.4 767.4 L852.9 767.4 L853.5 767.4 L854.0 767.4 L854.5 767.4 L855.1 767.5 L855.6 767.5 L856.1 767.5 L856.7 767.5 L857.2 767.5 L857.7 767.5 L858.2 767.5 L858.8 767.5 L859.3 767.5 L859.8 767.5 L860.4 767.5 L860.9 767.5 L861.4 767.5 L862.0 767.5 L862.5 767.5 L863.0 767.5 L863.6 767.5 L864.1 767.5 L864.6 767.5 L865.2 767.5 L865.7 767.5 L866.2 767.5 L866.8 767.5 L867.3 767.5 L867.8 767.5 L868.4 767.5 L868.9 767.5 L869.4 767.5 L870.0 767.5 L870.5 767.5 L871.0 767.5 L871.6 767.5 L872.1 767.6 L872.6 767.6 L873.1 767.6 L873.7 767.6 L874.2 767.6 L874.7 767.6 L875.3 767.6 L875.8 767.6 L876.3 767.6 L876.9 767.6 L877.4 767.6 L877.9 767.6 L878.5 767.6 L879.0 767.6" fill="none" stroke="#231f20" stroke-width="7" stroke-dasharray="10.5 23.50" stroke-dashoffset="2.15"/>
<path d="M241.0 764.6 L242.6 764.6 L244.2 764.6 L245.8 764.6 L247.4 764.6 L249.0 764.5 L250.6 764.5 L252.2 764.5 L253.9 764.5 L255.5 764.5 L257.1 764.5 L258.7 764.4 L260.3 764.4 L261.9 764.4 L263.5 764.4 L265.1 764.3 L266.7 764.3 L268.3 764.3 L269.9 764.2 L271.5 764.2 L273.1 764.1 L274.7 764.1 L276.4 764.0 L278.0 764.0 L279.6 763.9 L281.2 763.9 L282.8 763.8 L284.4 763.7 L286.0 763.6 L287.6 763.5 L289.2 763.4 L290.8 763.3 L292.4 763.2 L294.0 763.1 L295.6 763.0 L297.2 762.8 L298.9 762.7 L300.5 762.5 L302.1 762.3 L303.7 762.1 L305.3 761.9 L306.9 761.7 L308.5 761.4 L310.1 761.2 L311.7 760.9 L313.3 760.6 L314.9 760.2 L316.5 759.9 L318.1 759.5 L319.7 759.1 L321.3 758.6 L323.0 758.1 L324.6 757.6 L326.2 757.0 L327.8 756.4 L329.4 755.7 L331.0 755.0 L332.6 754.2 L334.2 753.4 L335.8 752.5 L337.4 751.5 L339.0 750.5 L340.6 749.4 L342.2 748.2 L343.8 746.9 L345.5 745.5 L347.1 744.0 L348.7 742.4 L350.3 740.7 L351.9 738.9 L353.5 736.9 L355.1 734.8 L356.7 732.6 L358.3 730.2 L359.9 727.6 L361.5 724.9 L363.1 722.0 L364.7 718.9 L366.3 715.7 L368.0 712.2 L369.6 708.5 L371.2 704.6 L372.8 700.5 L374.4 696.2 L376.0 691.7 L377.6 686.9 L379.2 681.9 L380.8 676.7 L382.4 671.2 L384.0 665.5 L385.6 659.6 L387.2 653.4 L388.8 647.1 L390.5 640.6 L392.1 633.8 L393.7 626.9 L395.3 619.8 L396.9 612.6 L398.5 605.3 L400.1 597.9 L401.7 590.3 L403.3 582.7 L404.9 575.1 L406.5 567.5 L408.1 559.9 L409.7 552.3 L411.3 544.7 L412.9 537.2 L414.6 529.9 L416.2 522.6 L417.8 515.5 L419.4 508.6 L421.0 501.8 L422.6 495.2 L424.2 488.8 L425.8 482.6 L427.4 476.6 L429.0 470.8 L430.6 465.3 L432.2 460.0 L433.8 454.9 L435.4 450.1 L437.1 445.5 L438.7 441.1 L440.3 436.9 L441.9 433.0 L443.5 429.2 L445.1 425.7 L446.7 422.4 L448.3 419.2 L449.9 416.3 L451.5 413.5 L453.1 410.9 L454.7 408.5 L456.3 406.2 L457.9 404.0 L459.6 402.0 L461.2 400.2 L462.8 398.4 L464.4 396.8 L466.0 395.3 L467.6 393.9 L469.2 392.6 L470.8 391.3 L472.4 390.2 L474.0 389.1 L475.6 388.1 L477.2 387.2 L478.8 386.4 L480.4 385.6 L482.0 384.9 L483.7 384.2 L485.3 383.5 L486.9 383.0 L488.5 382.4 L490.1 381.9 L491.7 381.4 L493.3 381.0 L494.9 380.6 L496.5 380.2 L498.1 379.9 L499.7 379.6 L501.3 379.3 L502.9 379.0 L504.5 378.8 L506.2 378.5 L507.8 378.3 L509.4 378.1 L511.0 377.9 L512.6 377.8 L514.2 377.6 L515.8 377.5 L517.4 377.3 L519.0 377.2 L520.6 377.1 L522.2 377.0 L523.8 376.9 L525.4 376.8 L527.0 376.7 L528.7 376.6 L530.3 376.6 L531.9 376.5 L533.5 376.4 L535.1 376.4 L536.7 376.3 L538.3 376.3 L539.9 376.3 L541.5 376.2 L543.1 376.2 L544.7 376.2 L546.3 376.1 L547.9 376.1 L549.5 376.1 L551.1 376.1 L552.8 376.1 L554.4 376.0 L556.0 376.0 L557.6 376.0 L559.2 376.0 L560.8 376.0 L562.4 376.0 L564.0 376.0 L565.6 376.0 L567.2 376.0 L568.8 376.1 L570.4 376.1 L572.0 376.1 L573.6 376.1 L575.3 376.1 L576.9 376.2 L578.5 376.2 L580.1 376.2 L581.7 376.3 L583.3 376.3 L584.9 376.4 L586.5 376.4 L588.1 376.5 L589.7 376.5 L591.3 376.6 L592.9 376.7 L594.5 376.8 L596.1 376.8 L597.8 376.9 L599.4 377.1 L601.0 377.2 L602.6 377.3 L604.2 377.4 L605.8 377.6 L607.4 377.8 L609.0 377.9 L610.6 378.1 L612.2 378.4 L613.8 378.6 L615.4 378.8 L617.0 379.1 L618.6 379.4 L620.3 379.8 L621.9 380.1 L623.5 380.5 L625.1 380.9 L626.7 381.4 L628.3 381.9 L629.9 382.4 L631.5 383.0 L633.1 383.6 L634.7 384.3 L636.3 385.0 L637.9 385.8 L639.5 386.7 L641.1 387.6 L642.7 388.7 L644.4 389.8 L646.0 391.0 L647.6 392.2 L649.2 393.6 L650.8 395.1 L652.4 396.7 L654.0 398.5 L655.6 400.4 L657.2 402.4 L658.8 404.6 L660.4 406.9 L662.0 409.4 L663.6 412.1 L665.2 415.0 L666.9 418.0 L668.5 421.3 L670.1 424.8 L671.7 428.5 L673.3 432.5 L674.9 436.7 L676.5 441.2 L678.1 445.9 L679.7 450.8 L681.3 456.1 L682.9 461.6 L684.5 467.3 L686.1 473.4 L687.7 479.7 L689.4 486.2 L691.0 493.0 L692.6 500.0 L694.2 507.2 L695.8 514.6 L697.4 522.2 L699.0 530.0 L700.6 537.9 L702.2 545.9 L703.8 554.0 L705.4 562.1 L707.0 570.3 L708.6 578.5 L710.2 586.6 L711.8 594.7 L713.5 602.7 L715.1 610.6 L716.7 618.3 L718.3 625.9 L719.9 633.4 L721.5 640.6 L723.1 647.6 L724.7 654.3 L726.3 660.9 L727.9 667.1 L729.5 673.2 L731.1 678.9 L732.7 684.4 L734.3 689.6 L736.0 694.6 L737.6 699.3 L739.2 703.8 L740.8 708.0 L742.4 711.9 L744.0 715.6 L745.6 719.1 L747.2 722.4 L748.8 725.5 L750.4 728.4 L752.0 731.0 L753.6 733.5 L755.2 735.9 L756.8 738.0 L758.5 740.1 L760.1 741.9 L761.7 743.7 L763.3 745.3 L764.9 746.8 L766.5 748.2 L768.1 749.5 L769.7 750.6 L771.3 751.7 L772.9 752.8 L774.5 753.7 L776.1 754.6 L777.7 755.4 L779.3 756.1 L780.9 756.8 L782.6 757.4 L784.2 758.0 L785.8 758.5 L787.4 759.0 L789.0 759.5 L790.6 759.9 L792.2 760.3 L793.8 760.6 L795.4 761.0 L797.0 761.3 L798.6 761.6 L800.2 761.8 L801.8 762.0 L803.4 762.3 L805.1 762.5 L806.7 762.6 L808.3 762.8 L809.9 763.0 L811.5 763.1 L813.1 763.2 L814.7 763.4 L816.3 763.5 L817.9 763.6 L819.5 763.7 L821.1 763.8 L822.7 763.8 L824.3 763.9 L825.9 764.0 L827.6 764.0 L829.2 764.1 L830.8 764.1 L832.4 764.2 L834.0 764.2 L835.6 764.3 L837.2 764.3 L838.8 764.4 L840.4 764.4 L842.0 764.4 L843.6 764.4 L845.2 764.5 L846.8 764.5 L848.4 764.5 L850.1 764.5 L851.7 764.5 L853.3 764.6 L854.9 764.6 L856.5 764.6 L858.1 764.6 L859.7 764.6 L861.3 764.6 L862.9 764.6 L864.5 764.6 L866.1 764.6 L867.7 764.7 L869.3 764.7 L870.9 764.7 L872.5 764.7 L874.2 764.7 L875.8 764.7 L877.4 764.7 L879.0 764.7 L880.6 764.7 L882.2 764.7" fill="none" stroke="#231f20" stroke-width="7.4" stroke-linejoin="round"/>
<rect x="234.50" y="760.50" width="13" height="13" fill="#231f20"/>
<rect x="298.30" y="747.50" width="13" height="13" fill="#231f20"/>
<rect x="362.10" y="710.00" width="13" height="13" fill="#231f20"/>
<rect x="425.90" y="459.00" width="13" height="13" fill="#231f20"/>
<rect x="489.70" y="367.90" width="13" height="13" fill="#231f20"/>
<rect x="617.30" y="379.50" width="13" height="13" fill="#231f20"/>
<rect x="681.10" y="479.50" width="13" height="13" fill="#231f20"/>
<rect x="744.90" y="721.50" width="13" height="13" fill="#231f20"/>
<rect x="808.70" y="749.00" width="13" height="13" fill="#231f20"/>
<rect x="872.50" y="759.50" width="13" height="13" fill="#231f20"/>
<line x1="1224.90" y1="695.40" x2="1224.90" y2="714.00" stroke="#4a4647" stroke-width="1.7" />
<line x1="1212.40" y1="695.40" x2="1237.40" y2="695.40" stroke="#4a4647" stroke-width="1.7" />
<line x1="1212.40" y1="714.00" x2="1237.40" y2="714.00" stroke="#4a4647" stroke-width="1.7" />
<line x1="1288.00" y1="670.70" x2="1288.00" y2="696.70" stroke="#4a4647" stroke-width="1.7" />
<line x1="1275.50" y1="670.70" x2="1300.50" y2="670.70" stroke="#4a4647" stroke-width="1.7" />
<line x1="1275.50" y1="696.70" x2="1300.50" y2="696.70" stroke="#4a4647" stroke-width="1.7" />
<line x1="1351.10" y1="552.50" x2="1351.10" y2="578.10" stroke="#4a4647" stroke-width="1.7" />
<line x1="1338.60" y1="552.50" x2="1363.60" y2="552.50" stroke="#4a4647" stroke-width="1.7" />
<line x1="1338.60" y1="578.10" x2="1363.60" y2="578.10" stroke="#4a4647" stroke-width="1.7" />
<line x1="1414.20" y1="369.60" x2="1414.20" y2="398.00" stroke="#4a4647" stroke-width="1.7" />
<line x1="1401.70" y1="369.60" x2="1426.70" y2="369.60" stroke="#4a4647" stroke-width="1.7" />
<line x1="1401.70" y1="398.00" x2="1426.70" y2="398.00" stroke="#4a4647" stroke-width="1.7" />
<line x1="1477.30" y1="316.50" x2="1477.30" y2="332.50" stroke="#4a4647" stroke-width="1.7" />
<line x1="1464.80" y1="316.50" x2="1489.80" y2="316.50" stroke="#4a4647" stroke-width="1.7" />
<line x1="1464.80" y1="332.50" x2="1489.80" y2="332.50" stroke="#4a4647" stroke-width="1.7" />
<line x1="1603.50" y1="316.50" x2="1603.50" y2="332.50" stroke="#4a4647" stroke-width="1.7" />
<line x1="1591.00" y1="316.50" x2="1616.00" y2="316.50" stroke="#4a4647" stroke-width="1.7" />
<line x1="1591.00" y1="332.50" x2="1616.00" y2="332.50" stroke="#4a4647" stroke-width="1.7" />
<line x1="1666.60" y1="371.80" x2="1666.60" y2="408.20" stroke="#4a4647" stroke-width="1.7" />
<line x1="1654.10" y1="371.80" x2="1679.10" y2="371.80" stroke="#4a4647" stroke-width="1.7" />
<line x1="1654.10" y1="408.20" x2="1679.10" y2="408.20" stroke="#4a4647" stroke-width="1.7" />
<line x1="1729.70" y1="546.20" x2="1729.70" y2="572.80" stroke="#4a4647" stroke-width="1.7" />
<line x1="1717.20" y1="546.20" x2="1742.20" y2="546.20" stroke="#4a4647" stroke-width="1.7" />
<line x1="1717.20" y1="572.80" x2="1742.20" y2="572.80" stroke="#4a4647" stroke-width="1.7" />
<line x1="1792.80" y1="652.70" x2="1792.80" y2="668.70" stroke="#4a4647" stroke-width="1.7" />
<line x1="1780.30" y1="652.70" x2="1805.30" y2="652.70" stroke="#4a4647" stroke-width="1.7" />
<line x1="1780.30" y1="668.70" x2="1805.30" y2="668.70" stroke="#4a4647" stroke-width="1.7" />
<line x1="1855.90" y1="674.90" x2="1855.90" y2="690.90" stroke="#4a4647" stroke-width="1.7" />
<line x1="1843.40" y1="674.90" x2="1868.40" y2="674.90" stroke="#4a4647" stroke-width="1.7" />
<line x1="1843.40" y1="690.90" x2="1868.40" y2="690.90" stroke="#4a4647" stroke-width="1.7" />
<path d="M1224.9 703.7 L1225.4 703.7 L1226.0 703.6 L1226.5 703.6 L1227.0 703.5 L1227.5 703.5 L1228.1 703.4 L1228.6 703.4 L1229.1 703.3 L1229.6 703.3 L1230.2 703.2 L1230.7 703.2 L1231.2 703.1 L1231.7 703.1 L1232.3 703.0 L1232.8 703.0 L1233.3 702.9 L1233.8 702.8 L1234.4 702.8 L1234.9 702.7 L1235.4 702.6 L1236.0 702.6 L1236.5 702.5 L1237.0 702.4 L1237.5 702.4 L1238.1 702.3 L1238.6 702.2 L1239.1 702.2 L1239.6 702.1 L1240.2 702.0 L1240.7 701.9 L1241.2 701.9 L1241.7 701.8 L1242.3 701.7 L1242.8 701.6 L1243.3 701.5 L1243.8 701.4 L1244.4 701.4 L1244.9 701.3 L1245.4 701.2 L1246.0 701.1 L1246.5 701.0 L1247.0 700.9 L1247.5 700.8 L1248.1 700.7 L1248.6 700.6 L1249.1 700.5 L1249.6 700.4 L1250.2 700.3 L1250.7 700.2 L1251.2 700.1 L1251.7 700.0 L1252.3 699.8 L1252.8 699.7 L1253.3 699.6 L1253.8 699.5 L1254.4 699.4 L1254.9 699.2 L1255.4 699.1 L1256.0 699.0 L1256.5 698.8 L1257.0 698.7 L1257.5 698.6 L1258.1 698.4 L1258.6 698.3 L1259.1 698.1 L1259.6 698.0 L1260.2 697.8 L1260.7 697.7 L1261.2 697.5 L1261.7 697.4 L1262.3 697.2 L1262.8 697.0 L1263.3 696.9 L1263.8 696.7 L1264.4 696.5 L1264.9 696.3 L1265.4 696.2 L1265.9 696.0 L1266.5 695.8 L1267.0 695.6 L1267.5 695.4 L1268.1 695.2 L1268.6 695.0 L1269.1 694.8 L1269.6 694.6 L1270.2 694.4 L1270.7 694.2 L1271.2 693.9 L1271.7 693.7 L1272.3 693.5 L1272.8 693.3 L1273.3 693.0 L1273.8 692.8 L1274.4 692.5 L1274.9 692.3 L1275.4 692.0 L1275.9 691.8 L1276.5 691.5 L1277.0 691.2 L1277.5 691.0 L1278.1 690.7 L1278.6 690.4 L1279.1 690.1 L1279.6 689.8 L1280.2 689.5 L1280.7 689.2 L1281.2 688.9 L1281.7 688.6 L1282.3 688.3 L1282.8 688.0 L1283.3 687.6 L1283.8 687.3 L1284.4 687.0 L1284.9 686.6 L1285.4 686.3 L1285.9 685.9 L1286.5 685.5 L1287.0 685.2 L1287.5 684.8 L1288.1 684.4 L1288.6 684.0 L1289.1 683.6 L1289.6 683.2 L1290.2 682.8 L1290.7 682.4 L1291.2 682.0 L1291.7 681.5 L1292.3 681.1 L1292.8 680.6 L1293.3 680.2 L1293.8 679.7 L1294.4 679.3 L1294.9 678.8 L1295.4 678.3 L1295.9 677.8 L1296.5 677.3 L1297.0 676.8 L1297.5 676.3 L1298.1 675.8 L1298.6 675.2 L1299.1 674.7 L1299.6 674.1 L1300.2 673.6 L1300.7 673.0 L1301.2 672.4 L1301.7 671.8 L1302.3 671.2 L1302.8 670.6 L1303.3 670.0 L1303.8 669.4 L1304.4 668.7 L1304.9 668.1 L1305.4 667.4 L1305.9 666.8 L1306.5 666.1 L1307.0 665.4 L1307.5 664.7 L1308.1 664.0 L1308.6 663.3 L1309.1 662.6 L1309.6 661.8 L1310.2 661.1 L1310.7 660.3 L1311.2 659.5 L1311.7 658.8 L1312.3 658.0 L1312.8 657.2 L1313.3 656.3 L1313.8 655.5 L1314.4 654.7 L1314.9 653.8 L1315.4 652.9 L1315.9 652.1 L1316.5 651.2 L1317.0 650.3 L1317.5 649.4 L1318.1 648.4 L1318.6 647.5 L1319.1 646.5 L1319.6 645.6 L1320.2 644.6 L1320.7 643.6 L1321.2 642.6 L1321.7 641.6 L1322.3 640.5 L1322.8 639.5 L1323.3 638.4 L1323.8 637.4 L1324.4 636.3 L1324.9 635.2 L1325.4 634.1 L1325.9 632.9 L1326.5 631.8 L1327.0 630.6 L1327.5 629.5 L1328.0 628.3 L1328.6 627.1 L1329.1 625.9 L1329.6 624.7 L1330.2 623.4 L1330.7 622.2 L1331.2 620.9 L1331.7 619.6 L1332.3 618.4 L1332.8 617.0 L1333.3 615.7 L1333.8 614.4 L1334.4 613.0 L1334.9 611.7 L1335.4 610.3 L1335.9 608.9 L1336.5 607.5 L1337.0 606.1 L1337.5 604.7 L1338.0 603.2 L1338.6 601.8 L1339.1 600.3 L1339.6 598.8 L1340.2 597.3 L1340.7 595.8 L1341.2 594.3 L1341.7 592.7 L1342.3 591.2 L1342.8 589.6 L1343.3 588.0 L1343.8 586.5 L1344.4 584.9 L1344.9 583.2 L1345.4 581.6 L1345.9 580.0 L1346.5 578.3 L1347.0 576.7 L1347.5 575.0 L1348.0 573.3 L1348.6 571.6 L1349.1 569.9 L1349.6 568.2 L1350.2 566.5 L1350.7 564.7 L1351.2 563.0 L1351.7 561.2 L1352.3 559.5 L1352.8 557.7 L1353.3 555.9 L1353.8 554.1 L1354.4 552.3 L1354.9 550.5 L1355.4 548.7 L1355.9 546.9 L1356.5 545.0 L1357.0 543.2 L1357.5 541.3 L1358.0 539.5 L1358.6 537.6 L1359.1 535.8 L1359.6 533.9 L1360.2 532.0 L1360.7 530.1 L1361.2 528.2 L1361.7 526.4 L1362.3 524.5 L1362.8 522.6 L1363.3 520.7 L1363.8 518.7 L1364.4 516.8 L1364.9 514.9 L1365.4 513.0 L1365.9 511.1 L1366.5 509.2 L1367.0 507.3 L1367.5 505.3 L1368.0 503.4 L1368.6 501.5 L1369.1 499.6 L1369.6 497.7 L1370.2 495.8 L1370.7 493.8 L1371.2 491.9 L1371.7 490.0 L1372.3 488.1 L1372.8 486.2 L1373.3 484.3 L1373.8 482.4 L1374.4 480.5 L1374.9 478.6 L1375.4 476.7 L1375.9 474.8 L1376.5 472.9 L1377.0 471.1 L1377.5 469.2 L1378.0 467.3 L1378.6 465.5 L1379.1 463.6 L1379.6 461.8 L1380.2 459.9 L1380.7 458.1 L1381.2 456.3 L1381.7 454.5 L1382.3 452.7 L1382.8 450.9 L1383.3 449.1 L1383.8 447.3 L1384.4 445.5 L1384.9 443.8 L1385.4 442.0 L1385.9 440.3 L1386.5 438.5 L1387.0 436.8 L1387.5 435.1 L1388.0 433.4 L1388.6 431.7 L1389.1 430.0 L1389.6 428.4 L1390.1 426.7 L1390.7 425.1 L1391.2 423.5 L1391.7 421.8 L1392.3 420.2 L1392.8 418.6 L1393.3 417.0 L1393.8 415.5 L1394.4 413.9 L1394.9 412.4 L1395.4 410.8 L1395.9 409.3 L1396.5 407.8 L1397.0 406.3 L1397.5 404.8 L1398.0 403.4 L1398.6 401.9 L1399.1 400.5 L1399.6 399.1 L1400.1 397.7 L1400.7 396.3 L1401.2 394.9 L1401.7 393.5 L1402.3 392.2 L1402.8 390.8 L1403.3 389.5 L1403.8 388.2 L1404.4 386.9 L1404.9 385.6 L1405.4 384.3 L1405.9 383.1 L1406.5 381.8 L1407.0 380.6 L1407.5 379.4 L1408.0 378.2 L1408.6 377.0 L1409.1 375.8 L1409.6 374.6 L1410.1 373.5 L1410.7 372.4 L1411.2 371.2 L1411.7 370.1 L1412.3 369.0 L1412.8 368.0 L1413.3 366.9 L1413.8 365.8 L1414.4 364.8 L1414.9 363.8 L1415.4 362.8 L1415.9 361.8 L1416.5 360.8 L1417.0 359.8 L1417.5 358.9 L1418.0 357.9 L1418.6 357.0 L1419.1 356.1 L1419.6 355.1 L1420.1 354.2 L1420.7 353.4 L1421.2 352.5 L1421.7 351.6 L1422.3 350.8 L1422.8 349.9 L1423.3 349.1 L1423.8 348.3 L1424.4 347.5 L1424.9 346.7 L1425.4 345.9 L1425.9 345.2 L1426.5 344.4 L1427.0 343.7 L1427.5 342.9 L1428.0 342.2 L1428.6 341.5 L1429.1 340.8 L1429.6 340.1 L1430.1 339.4 L1430.7 338.8 L1431.2 338.1 L1431.7 337.5 L1432.3 336.8 L1432.8 336.2 L1433.3 335.6 L1433.8 335.0 L1434.4 334.4 L1434.9 333.8 L1435.4 333.2 L1435.9 332.6 L1436.5 332.0 L1437.0 331.5 L1437.5 330.9 L1438.0 330.4 L1438.6 329.9 L1439.1 329.4 L1439.6 328.8 L1440.1 328.3 L1440.7 327.8 L1441.2 327.4 L1441.7 326.9 L1442.3 326.4 L1442.8 325.9 L1443.3 325.5 L1443.8 325.0 L1444.4 324.6 L1444.9 324.2 L1445.4 323.7 L1445.9 323.3 L1446.5 322.9 L1447.0 322.5 L1447.5 322.1 L1448.0 321.7 L1448.6 321.3 L1449.1 320.9 L1449.6 320.6 L1450.1 320.2 L1450.7 319.8 L1451.2 319.5 L1451.7 319.1 L1452.2 318.8 L1452.8 318.5 L1453.3 318.1 L1453.8 317.8 L1454.4 317.5 L1454.9 317.2 L1455.4 316.9 L1455.9 316.6 L1456.5 316.3 L1457.0 316.0 L1457.5 315.7 L1458.0 315.4 L1458.6 315.1 L1459.1 314.9 L1459.6 314.6 L1460.1 314.3 L1460.7 314.1 L1461.2 313.8 L1461.7 313.6 L1462.2 313.3 L1462.8 313.1 L1463.3 312.9 L1463.8 312.6 L1464.4 312.4 L1464.9 312.2 L1465.4 312.0 L1465.9 311.7 L1466.5 311.5 L1467.0 311.3 L1467.5 311.1 L1468.0 310.9 L1468.6 310.7 L1469.1 310.5 L1469.6 310.3 L1470.1 310.2 L1470.7 310.0 L1471.2 309.8 L1471.7 309.6 L1472.2 309.5 L1472.8 309.3 L1473.3 309.1 L1473.8 309.0 L1474.4 308.8 L1474.9 308.6 L1475.4 308.5 L1475.9 308.3 L1476.5 308.2 L1477.0 308.1 L1477.5 307.9 L1478.0 307.8 L1478.6 307.6 L1479.1 307.5 L1479.6 307.4 L1480.1 307.2 L1480.7 307.1 L1481.2 307.0 L1481.7 306.9 L1482.2 306.8 L1482.8 306.6 L1483.3 306.5 L1483.8 306.4 L1484.4 306.3 L1484.9 306.2 L1485.4 306.1 L1485.9 306.0 L1486.5 305.9 L1487.0 305.8 L1487.5 305.7 L1488.0 305.6 L1488.6 305.5 L1489.1 305.4 L1489.6 305.3 L1490.1 305.3 L1490.7 305.2 L1491.2 305.1 L1491.7 305.0 L1492.2 304.9 L1492.8 304.8 L1493.3 304.8 L1493.8 304.7 L1494.4 304.6 L1494.9 304.6 L1495.4 304.5 L1495.9 304.4 L1496.5 304.4 L1497.0 304.3 L1497.5 304.2 L1498.0 304.2 L1498.6 304.1 L1499.1 304.1 L1499.6 304.0 L1500.1 303.9 L1500.7 303.9 L1501.2 303.8 L1501.7 303.8 L1502.2 303.7 L1502.8 303.7 L1503.3 303.6 L1503.8 303.6 L1504.4 303.5 L1504.9 303.5 L1505.4 303.5 L1505.9 303.4 L1506.5 303.4 L1507.0 303.3 L1507.5 303.3 L1508.0 303.3 L1508.6 303.2 L1509.1 303.2 L1509.6 303.2 L1510.1 303.1 L1510.7 303.1 L1511.2 303.1 L1511.7 303.1 L1512.2 303.0 L1512.8 303.0 L1513.3 303.0 L1513.8 303.0 L1514.3 302.9 L1514.9 302.9 L1515.4 302.9 L1515.9 302.9 L1516.5 302.9 L1517.0 302.8 L1517.5 302.8 L1518.0 302.8 L1518.6 302.8 L1519.1 302.8 L1519.6 302.8 L1520.1 302.8 L1520.7 302.7 L1521.2 302.7 L1521.7 302.7 L1522.2 302.7 L1522.8 302.7 L1523.3 302.7 L1523.8 302.7 L1524.3 302.7 L1524.9 302.7 L1525.4 302.7 L1525.9 302.7 L1526.5 302.7 L1527.0 302.7 L1527.5 302.7 L1528.0 302.7 L1528.6 302.7 L1529.1 302.7 L1529.6 302.7 L1530.1 302.7 L1530.7 302.7 L1531.2 302.7 L1531.7 302.8 L1532.2 302.8 L1532.8 302.8 L1533.3 302.8 L1533.8 302.8 L1534.3 302.8 L1534.9 302.8 L1535.4 302.8 L1535.9 302.9 L1536.5 302.9 L1537.0 302.9 L1537.5 302.9 L1538.0 302.9 L1538.6 303.0 L1539.1 303.0 L1539.6 303.0 L1540.1 303.0 L1540.7 303.0 L1541.2 303.1 L1541.7 303.1 L1542.2 303.1 L1542.8 303.2 L1543.3 303.2 L1543.8 303.2 L1544.3 303.2 L1544.9 303.3 L1545.4 303.3 L1545.9 303.3 L1546.5 303.4 L1547.0 303.4 L1547.5 303.5 L1548.0 303.5 L1548.6 303.5 L1549.1 303.6 L1549.6 303.6 L1550.1 303.7 L1550.7 303.7 L1551.2 303.8 L1551.7 303.8 L1552.2 303.8 L1552.8 303.9 L1553.3 303.9 L1553.8 304.0 L1554.3 304.0 L1554.9 304.1 L1555.4 304.2 L1555.9 304.2 L1556.5 304.3 L1557.0 304.3 L1557.5 304.4 L1558.0 304.4 L1558.6 304.5 L1559.1 304.6 L1559.6 304.6 L1560.1 304.7 L1560.7 304.8 L1561.2 304.8 L1561.7 304.9 L1562.2 305.0 L1562.8 305.0 L1563.3 305.1 L1563.8 305.2 L1564.3 305.3 L1564.9 305.3 L1565.4 305.4 L1565.9 305.5 L1566.5 305.6 L1567.0 305.7 L1567.5 305.8 L1568.0 305.8 L1568.6 305.9 L1569.1 306.0 L1569.6 306.1 L1570.1 306.2 L1570.7 306.3 L1571.2 306.4 L1571.7 306.5 L1572.2 306.6 L1572.8 306.7 L1573.3 306.8 L1573.8 306.9 L1574.3 307.0 L1574.9 307.1 L1575.4 307.2 L1575.9 307.3 L1576.4 307.5 L1577.0 307.6 L1577.5 307.7 L1578.0 307.8 L1578.6 307.9 L1579.1 308.1 L1579.6 308.2 L1580.1 308.3 L1580.7 308.5 L1581.2 308.6 L1581.7 308.7 L1582.2 308.9 L1582.8 309.0 L1583.3 309.1 L1583.8 309.3 L1584.3 309.4 L1584.9 309.6 L1585.4 309.7 L1585.9 309.9 L1586.4 310.1 L1587.0 310.2 L1587.5 310.4 L1588.0 310.5 L1588.6 310.7 L1589.1 310.9 L1589.6 311.1 L1590.1 311.2 L1590.7 311.4 L1591.2 311.6 L1591.7 311.8 L1592.2 312.0 L1592.8 312.2 L1593.3 312.3 L1593.8 312.5 L1594.3 312.7 L1594.9 312.9 L1595.4 313.1 L1595.9 313.4 L1596.4 313.6 L1597.0 313.8 L1597.5 314.0 L1598.0 314.2 L1598.6 314.5 L1599.1 314.7 L1599.6 314.9 L1600.1 315.2 L1600.7 315.4 L1601.2 315.6 L1601.7 315.9 L1602.2 316.1 L1602.8 316.4 L1603.3 316.6 L1603.8 316.9 L1604.3 317.2 L1604.9 317.4 L1605.4 317.7 L1605.9 318.0 L1606.4 318.3 L1607.0 318.6 L1607.5 318.9 L1608.0 319.2 L1608.6 319.5 L1609.1 319.8 L1609.6 320.1 L1610.1 320.4 L1610.7 320.7 L1611.2 321.0 L1611.7 321.4 L1612.2 321.7 L1612.8 322.0 L1613.3 322.4 L1613.8 322.7 L1614.3 323.1 L1614.9 323.4 L1615.4 323.8 L1615.9 324.2 L1616.4 324.5 L1617.0 324.9 L1617.5 325.3 L1618.0 325.7 L1618.6 326.1 L1619.1 326.5 L1619.6 326.9 L1620.1 327.3 L1620.7 327.7 L1621.2 328.2 L1621.7 328.6 L1622.2 329.0 L1622.8 329.5 L1623.3 329.9 L1623.8 330.4 L1624.3 330.8 L1624.9 331.3 L1625.4 331.8 L1625.9 332.3 L1626.4 332.8 L1627.0 333.3 L1627.5 333.8 L1628.0 334.3 L1628.6 334.8 L1629.1 335.3 L1629.6 335.8 L1630.1 336.4 L1630.7 336.9 L1631.2 337.5 L1631.7 338.0 L1632.2 338.6 L1632.8 339.2 L1633.3 339.7 L1633.8 340.3 L1634.3 340.9 L1634.9 341.5 L1635.4 342.1 L1635.9 342.8 L1636.4 343.4 L1637.0 344.0 L1637.5 344.7 L1638.0 345.3 L1638.5 346.0 L1639.1 346.7 L1639.6 347.3 L1640.1 348.0 L1640.7 348.7 L1641.2 349.4 L1641.7 350.1 L1642.2 350.9 L1642.8 351.6 L1643.3 352.3 L1643.8 353.1 L1644.3 353.8 L1644.9 354.6 L1645.4 355.4 L1645.9 356.2 L1646.4 356.9 L1647.0 357.7 L1647.5 358.6 L1648.0 359.4 L1648.5 360.2 L1649.1 361.1 L1649.6 361.9 L1650.1 362.8 L1650.7 363.6 L1651.2 364.5 L1651.7 365.4 L1652.2 366.3 L1652.8 367.2 L1653.3 368.1 L1653.8 369.1 L1654.3 370.0 L1654.9 370.9 L1655.4 371.9 L1655.9 372.9 L1656.4 373.8 L1657.0 374.8 L1657.5 375.8 L1658.0 376.8 L1658.5 377.9 L1659.1 378.9 L1659.6 379.9 L1660.1 381.0 L1660.7 382.0 L1661.2 383.1 L1661.7 384.2 L1662.2 385.3 L1662.8 386.4 L1663.3 387.5 L1663.8 388.6 L1664.3 389.8 L1664.9 390.9 L1665.4 392.1 L1665.9 393.2 L1666.4 394.4 L1667.0 395.6 L1667.5 396.8 L1668.0 398.0 L1668.5 399.2 L1669.1 400.4 L1669.6 401.7 L1670.1 402.9 L1670.7 404.2 L1671.2 405.4 L1671.7 406.7 L1672.2 408.0 L1672.8 409.3 L1673.3 410.6 L1673.8 411.9 L1674.3 413.2 L1674.9 414.6 L1675.4 415.9 L1675.9 417.3 L1676.4 418.6 L1677.0 420.0 L1677.5 421.4 L1678.0 422.8 L1678.5 424.2 L1679.1 425.6 L1679.6 427.0 L1680.1 428.4 L1680.7 429.8 L1681.2 431.3 L1681.7 432.7 L1682.2 434.2 L1682.8 435.7 L1683.3 437.1 L1683.8 438.6 L1684.3 440.1 L1684.9 441.6 L1685.4 443.1 L1685.9 444.6 L1686.4 446.1 L1687.0 447.7 L1687.5 449.2 L1688.0 450.7 L1688.5 452.3 L1689.1 453.8 L1689.6 455.4 L1690.1 457.0 L1690.7 458.5 L1691.2 460.1 L1691.7 461.7 L1692.2 463.3 L1692.8 464.9 L1693.3 466.5 L1693.8 468.1 L1694.3 469.7 L1694.9 471.3 L1695.4 472.9 L1695.9 474.5 L1696.4 476.2 L1697.0 477.8 L1697.5 479.4 L1698.0 481.0 L1698.5 482.7 L1699.1 484.3 L1699.6 486.0 L1700.1 487.6 L1700.6 489.2 L1701.2 490.9 L1701.7 492.5 L1702.2 494.2 L1702.8 495.8 L1703.3 497.5 L1703.8 499.2 L1704.3 500.8 L1704.9 502.5 L1705.4 504.1 L1705.9 505.8 L1706.4 507.4 L1707.0 509.1 L1707.5 510.7 L1708.0 512.4 L1708.5 514.0 L1709.1 515.7 L1709.6 517.3 L1710.1 519.0 L1710.6 520.6 L1711.2 522.3 L1711.7 523.9 L1712.2 525.5 L1712.8 527.2 L1713.3 528.8 L1713.8 530.4 L1714.3 532.1 L1714.9 533.7 L1715.4 535.3 L1715.9 536.9 L1716.4 538.5 L1717.0 540.1 L1717.5 541.7 L1718.0 543.3 L1718.5 544.9 L1719.1 546.5 L1719.6 548.1 L1720.1 549.7 L1720.6 551.2 L1721.2 552.8 L1721.7 554.3 L1722.2 555.9 L1722.8 557.4 L1723.3 559.0 L1723.8 560.5 L1724.3 562.0 L1724.9 563.5 L1725.4 565.1 L1725.9 566.6 L1726.4 568.1 L1727.0 569.5 L1727.5 571.0 L1728.0 572.5 L1728.5 574.0 L1729.1 575.4 L1729.6 576.9 L1730.1 578.3 L1730.6 579.7 L1731.2 581.1 L1731.7 582.6 L1732.2 584.0 L1732.8 585.4 L1733.3 586.7 L1733.8 588.1 L1734.3 589.5 L1734.9 590.8 L1735.4 592.2 L1735.9 593.5 L1736.4 594.9 L1737.0 596.2 L1737.5 597.5 L1738.0 598.8 L1738.5 600.1 L1739.1 601.4 L1739.6 602.6 L1740.1 603.9 L1740.6 605.2 L1741.2 606.4 L1741.7 607.6 L1742.2 608.8 L1742.8 610.1 L1743.3 611.3 L1743.8 612.5 L1744.3 613.6 L1744.9 614.8 L1745.4 616.0 L1745.9 617.1 L1746.4 618.3 L1747.0 619.4 L1747.5 620.5 L1748.0 621.6 L1748.5 622.7 L1749.1 623.8 L1749.6 624.9 L1750.1 625.9 L1750.6 627.0 L1751.2 628.0 L1751.7 629.1 L1752.2 630.1 L1752.8 631.1 L1753.3 632.1 L1753.8 633.1 L1754.3 634.1 L1754.9 635.1 L1755.4 636.0 L1755.9 637.0 L1756.4 637.9 L1757.0 638.9 L1757.5 639.8 L1758.0 640.7 L1758.5 641.6 L1759.1 642.5 L1759.6 643.4 L1760.1 644.3 L1760.6 645.1 L1761.2 646.0 L1761.7 646.8 L1762.2 647.7 L1762.7 648.5 L1763.3 649.3 L1763.8 650.1 L1764.3 650.9 L1764.9 651.7 L1765.4 652.5 L1765.9 653.3 L1766.4 654.0 L1767.0 654.8 L1767.5 655.5 L1768.0 656.3 L1768.5 657.0 L1769.1 657.7 L1769.6 658.4 L1770.1 659.1 L1770.6 659.8 L1771.2 660.5 L1771.7 661.2 L1772.2 661.8 L1772.7 662.5 L1773.3 663.1 L1773.8 663.8 L1774.3 664.4 L1774.9 665.0 L1775.4 665.7 L1775.9 666.3 L1776.4 666.9 L1777.0 667.5 L1777.5 668.1 L1778.0 668.6 L1778.5 669.2 L1779.1 669.8 L1779.6 670.3 L1780.1 670.9 L1780.6 671.4 L1781.2 672.0 L1781.7 672.5 L1782.2 673.0 L1782.7 673.5 L1783.3 674.0 L1783.8 674.5 L1784.3 675.0 L1784.9 675.5 L1785.4 676.0 L1785.9 676.5 L1786.4 676.9 L1787.0 677.4 L1787.5 677.8 L1788.0 678.3 L1788.5 678.7 L1789.1 679.2 L1789.6 679.6 L1790.1 680.0 L1790.6 680.4 L1791.2 680.8 L1791.7 681.2 L1792.2 681.6 L1792.7 682.0 L1793.3 682.4 L1793.8 682.8 L1794.3 683.2 L1794.9 683.6 L1795.4 683.9 L1795.9 684.3 L1796.4 684.7 L1797.0 685.0 L1797.5 685.4 L1798.0 685.7 L1798.5 686.0 L1799.1 686.4 L1799.6 686.7 L1800.1 687.0 L1800.6 687.3 L1801.2 687.7 L1801.7 688.0 L1802.2 688.3 L1802.7 688.6 L1803.3 688.9 L1803.8 689.2 L1804.3 689.4 L1804.9 689.7 L1805.4 690.0 L1805.9 690.3 L1806.4 690.5 L1807.0 690.8 L1807.5 691.1 L1808.0 691.3 L1808.5 691.6 L1809.1 691.8 L1809.6 692.1 L1810.1 692.3 L1810.6 692.6 L1811.2 692.8 L1811.7 693.0 L1812.2 693.3 L1812.7 693.5 L1813.3 693.7 L1813.8 693.9 L1814.3 694.2 L1814.9 694.4 L1815.4 694.6 L1815.9 694.8 L1816.4 695.0 L1817.0 695.2 L1817.5 695.4 L1818.0 695.6 L1818.5 695.8 L1819.1 696.0 L1819.6 696.1 L1820.1 696.3 L1820.6 696.5 L1821.2 696.7 L1821.7 696.9 L1822.2 697.0 L1822.7 697.2 L1823.3 697.4 L1823.8 697.5 L1824.3 697.7 L1824.8 697.9 L1825.4 698.0 L1825.9 698.2 L1826.4 698.3 L1827.0 698.5 L1827.5 698.6 L1828.0 698.8 L1828.5 698.9 L1829.1 699.0 L1829.6 699.2 L1830.1 699.3 L1830.6 699.5 L1831.2 699.6 L1831.7 699.7 L1832.2 699.8 L1832.7 700.0 L1833.3 700.1 L1833.8 700.2 L1834.3 700.3 L1834.8 700.5 L1835.4 700.6 L1835.9 700.7 L1836.4 700.8 L1837.0 700.9 L1837.5 701.0 L1838.0 701.1 L1838.5 701.2 L1839.1 701.3 L1839.6 701.4 L1840.1 701.5 L1840.6 701.6 L1841.2 701.7 L1841.7 701.8 L1842.2 701.9 L1842.7 702.0 L1843.3 702.1 L1843.8 702.2 L1844.3 702.3 L1844.8 702.4 L1845.4 702.5 L1845.9 702.6 L1846.4 702.6 L1847.0 702.7 L1847.5 702.8 L1848.0 702.9 L1848.5 703.0 L1849.1 703.0 L1849.6 703.1 L1850.1 703.2 L1850.6 703.3 L1851.2 703.3 L1851.7 703.4 L1852.2 703.5 L1852.7 703.6 L1853.3 703.6 L1853.8 703.7 L1854.3 703.8 L1854.8 703.8 L1855.4 703.9 L1855.9 704.0" fill="none" stroke="#231f20" stroke-width="7" stroke-dasharray="10.5 26.10" stroke-dashoffset="25.31"/>
<path d="M1224.9 705.3 L1226.5 705.1 L1228.1 705.0 L1229.6 704.8 L1231.2 704.7 L1232.8 704.5 L1234.4 704.3 L1236.0 704.1 L1237.6 703.9 L1239.1 703.7 L1240.7 703.5 L1242.3 703.2 L1243.9 703.0 L1245.5 702.7 L1247.0 702.4 L1248.6 702.1 L1250.2 701.8 L1251.8 701.5 L1253.4 701.1 L1254.9 700.7 L1256.5 700.3 L1258.1 699.9 L1259.7 699.4 L1261.3 699.0 L1262.9 698.5 L1264.4 698.0 L1266.0 697.4 L1267.6 696.8 L1269.2 696.2 L1270.8 695.5 L1272.3 694.8 L1273.9 694.1 L1275.5 693.4 L1277.1 692.5 L1278.7 691.7 L1280.3 690.8 L1281.8 689.8 L1283.4 688.9 L1285.0 687.8 L1286.6 686.7 L1288.2 685.5 L1289.7 684.3 L1291.3 683.0 L1292.9 681.7 L1294.5 680.2 L1296.1 678.8 L1297.6 677.2 L1299.2 675.5 L1300.8 673.8 L1302.4 672.0 L1304.0 670.1 L1305.6 668.1 L1307.1 666.0 L1308.7 663.9 L1310.3 661.6 L1311.9 659.2 L1313.5 656.7 L1315.0 654.2 L1316.6 651.5 L1318.2 648.7 L1319.8 645.7 L1321.4 642.7 L1323.0 639.5 L1324.5 636.3 L1326.1 632.8 L1327.7 629.3 L1329.3 625.7 L1330.9 621.9 L1332.4 618.0 L1334.0 614.0 L1335.6 609.9 L1337.2 605.6 L1338.8 601.2 L1340.3 596.7 L1341.9 592.1 L1343.5 587.4 L1345.1 582.6 L1346.7 577.7 L1348.3 572.6 L1349.8 567.5 L1351.4 562.3 L1353.0 557.1 L1354.6 551.7 L1356.2 546.3 L1357.7 540.9 L1359.3 535.3 L1360.9 529.8 L1362.5 524.2 L1364.1 518.6 L1365.6 513.0 L1367.2 507.4 L1368.8 501.8 L1370.4 496.2 L1372.0 490.6 L1373.6 485.1 L1375.1 479.6 L1376.7 474.1 L1378.3 468.7 L1379.9 463.4 L1381.5 458.2 L1383.0 453.0 L1384.6 447.9 L1386.2 442.9 L1387.8 438.0 L1389.4 433.2 L1391.0 428.5 L1392.5 424.0 L1394.1 419.5 L1395.7 415.2 L1397.3 411.0 L1398.9 406.9 L1400.4 402.9 L1402.0 399.0 L1403.6 395.3 L1405.2 391.7 L1406.8 388.2 L1408.3 384.8 L1409.9 381.6 L1411.5 378.5 L1413.1 375.5 L1414.7 372.6 L1416.3 369.8 L1417.8 367.1 L1419.4 364.6 L1421.0 362.2 L1422.6 359.8 L1424.2 357.6 L1425.7 355.4 L1427.3 353.4 L1428.9 351.4 L1430.5 349.6 L1432.1 347.8 L1433.7 346.1 L1435.2 344.5 L1436.8 342.9 L1438.4 341.4 L1440.0 340.0 L1441.6 338.7 L1443.1 337.5 L1444.7 336.3 L1446.3 335.1 L1447.9 334.0 L1449.5 333.0 L1451.0 332.0 L1452.6 331.1 L1454.2 330.2 L1455.8 329.4 L1457.4 328.6 L1459.0 327.8 L1460.5 327.1 L1462.1 326.5 L1463.7 325.8 L1465.3 325.2 L1466.9 324.7 L1468.4 324.1 L1470.0 323.6 L1471.6 323.1 L1473.2 322.7 L1474.8 322.2 L1476.4 321.8 L1477.9 321.5 L1479.5 321.1 L1481.1 320.8 L1482.7 320.4 L1484.3 320.1 L1485.8 319.9 L1487.4 319.6 L1489.0 319.3 L1490.6 319.1 L1492.2 318.9 L1493.7 318.7 L1495.3 318.5 L1496.9 318.3 L1498.5 318.1 L1500.1 318.0 L1501.7 317.8 L1503.2 317.7 L1504.8 317.6 L1506.4 317.4 L1508.0 317.3 L1509.6 317.2 L1511.1 317.2 L1512.7 317.1 L1514.3 317.0 L1515.9 316.9 L1517.5 316.9 L1519.1 316.8 L1520.6 316.8 L1522.2 316.8 L1523.8 316.7 L1525.4 316.7 L1527.0 316.7 L1528.5 316.7 L1530.1 316.7 L1531.7 316.7 L1533.3 316.7 L1534.9 316.7 L1536.4 316.7 L1538.0 316.8 L1539.6 316.8 L1541.2 316.8 L1542.8 316.9 L1544.4 316.9 L1545.9 317.0 L1547.5 317.1 L1549.1 317.2 L1550.7 317.2 L1552.3 317.3 L1553.8 317.4 L1555.4 317.5 L1557.0 317.7 L1558.6 317.8 L1560.2 317.9 L1561.7 318.1 L1563.3 318.2 L1564.9 318.4 L1566.5 318.5 L1568.1 318.7 L1569.7 318.9 L1571.2 319.1 L1572.8 319.3 L1574.4 319.6 L1576.0 319.8 L1577.6 320.1 L1579.1 320.3 L1580.7 320.6 L1582.3 320.9 L1583.9 321.2 L1585.5 321.6 L1587.1 321.9 L1588.6 322.3 L1590.2 322.7 L1591.8 323.1 L1593.4 323.5 L1595.0 323.9 L1596.5 324.4 L1598.1 324.9 L1599.7 325.4 L1601.3 326.0 L1602.9 326.5 L1604.4 327.1 L1606.0 327.8 L1607.6 328.4 L1609.2 329.1 L1610.8 329.8 L1612.4 330.6 L1613.9 331.4 L1615.5 332.2 L1617.1 333.1 L1618.7 334.0 L1620.3 335.0 L1621.8 336.0 L1623.4 337.0 L1625.0 338.1 L1626.6 339.3 L1628.2 340.5 L1629.8 341.7 L1631.3 343.0 L1632.9 344.4 L1634.5 345.8 L1636.1 347.3 L1637.7 348.8 L1639.2 350.4 L1640.8 352.1 L1642.4 353.9 L1644.0 355.7 L1645.6 357.6 L1647.1 359.5 L1648.7 361.6 L1650.3 363.7 L1651.9 365.9 L1653.5 368.2 L1655.1 370.6 L1656.6 373.0 L1658.2 375.6 L1659.8 378.2 L1661.4 380.9 L1663.0 383.7 L1664.5 386.6 L1666.1 389.6 L1667.7 392.7 L1669.3 395.8 L1670.9 399.1 L1672.5 402.4 L1674.0 405.9 L1675.6 409.4 L1677.2 413.0 L1678.8 416.7 L1680.4 420.5 L1681.9 424.4 L1683.5 428.3 L1685.1 432.4 L1686.7 436.5 L1688.3 440.6 L1689.8 444.9 L1691.4 449.2 L1693.0 453.5 L1694.6 458.0 L1696.2 462.4 L1697.8 467.0 L1699.3 471.5 L1700.9 476.1 L1702.5 480.7 L1704.1 485.4 L1705.7 490.0 L1707.2 494.7 L1708.8 499.4 L1710.4 504.1 L1712.0 508.8 L1713.6 513.4 L1715.2 518.1 L1716.7 522.7 L1718.3 527.3 L1719.9 531.8 L1721.5 536.4 L1723.1 540.8 L1724.6 545.3 L1726.2 549.6 L1727.8 553.9 L1729.4 558.2 L1731.0 562.4 L1732.5 566.5 L1734.1 570.5 L1735.7 574.5 L1737.3 578.3 L1738.9 582.1 L1740.5 585.8 L1742.0 589.4 L1743.6 593.0 L1745.2 596.4 L1746.8 599.8 L1748.4 603.0 L1749.9 606.2 L1751.5 609.3 L1753.1 612.3 L1754.7 615.2 L1756.3 618.0 L1757.8 620.7 L1759.4 623.3 L1761.0 625.9 L1762.6 628.3 L1764.2 630.7 L1765.8 633.0 L1767.3 635.2 L1768.9 637.3 L1770.5 639.4 L1772.1 641.3 L1773.7 643.2 L1775.2 645.1 L1776.8 646.8 L1778.4 648.5 L1780.0 650.1 L1781.6 651.7 L1783.2 653.1 L1784.7 654.6 L1786.3 655.9 L1787.9 657.2 L1789.5 658.5 L1791.1 659.7 L1792.6 660.8 L1794.2 661.9 L1795.8 663.0 L1797.4 664.0 L1799.0 665.0 L1800.5 665.9 L1802.1 666.8 L1803.7 667.6 L1805.3 668.4 L1806.9 669.2 L1808.5 669.9 L1810.0 670.6 L1811.6 671.3 L1813.2 671.9 L1814.8 672.5 L1816.4 673.1 L1817.9 673.6 L1819.5 674.2 L1821.1 674.7 L1822.7 675.1 L1824.3 675.6 L1825.9 676.0 L1827.4 676.4 L1829.0 676.8 L1830.6 677.2 L1832.2 677.6 L1833.8 677.9 L1835.3 678.2 L1836.9 678.5 L1838.5 678.8 L1840.1 679.1 L1841.7 679.4 L1843.2 679.6 L1844.8 679.9 L1846.4 680.1 L1848.0 680.3 L1849.6 680.5 L1851.2 680.7 L1852.7 680.9 L1854.3 681.1 L1855.9 681.3" fill="none" stroke="#231f20" stroke-width="7.4" stroke-linejoin="round"/>
<rect x="1216.90" y="696.70" width="16" height="16" fill="#231f20"/>
<rect x="1280.00" y="675.70" width="16" height="16" fill="#231f20"/>
<rect x="1343.10" y="557.30" width="16" height="16" fill="#231f20"/>
<rect x="1406.20" y="375.80" width="16" height="16" fill="#231f20"/>
<rect x="1469.30" y="316.50" width="16" height="16" fill="#231f20"/>
<rect x="1595.50" y="316.50" width="16" height="16" fill="#231f20"/>
<rect x="1658.60" y="382.00" width="16" height="16" fill="#231f20"/>
<rect x="1721.70" y="551.50" width="16" height="16" fill="#231f20"/>
<rect x="1784.80" y="652.70" width="16" height="16" fill="#231f20"/>
<rect x="1847.90" y="674.90" width="16" height="16" fill="#231f20"/>
<line x1="366.68" y1="1527.50" x2="366.68" y2="1576.50" stroke="#231f20" stroke-width="2.0" />
<line x1="354.18" y1="1527.50" x2="379.18" y2="1527.50" stroke="#231f20" stroke-width="2.0" />
<line x1="354.18" y1="1576.50" x2="379.18" y2="1576.50" stroke="#231f20" stroke-width="2.0" />
<line x1="428.22" y1="1307.00" x2="428.22" y2="1345.60" stroke="#231f20" stroke-width="2.0" />
<line x1="415.72" y1="1307.00" x2="440.72" y2="1307.00" stroke="#231f20" stroke-width="2.0" />
<line x1="415.72" y1="1345.60" x2="440.72" y2="1345.60" stroke="#231f20" stroke-width="2.0" />
<line x1="674.38" y1="1367.30" x2="674.38" y2="1410.70" stroke="#8a8788" stroke-width="2.2" />
<line x1="661.88" y1="1367.30" x2="686.88" y2="1367.30" stroke="#8a8788" stroke-width="2.2" />
<line x1="661.88" y1="1410.70" x2="686.88" y2="1410.70" stroke="#8a8788" stroke-width="2.2" />
<line x1="735.92" y1="1728.90" x2="735.92" y2="1754.90" stroke="#231f20" stroke-width="2.0" />
<line x1="723.42" y1="1728.90" x2="748.42" y2="1728.90" stroke="#231f20" stroke-width="2.0" />
<line x1="723.42" y1="1754.90" x2="748.42" y2="1754.90" stroke="#231f20" stroke-width="2.0" />
<line x1="797.46" y1="1728.90" x2="797.46" y2="1754.90" stroke="#231f20" stroke-width="2.0" />
<line x1="784.96" y1="1728.90" x2="809.96" y2="1728.90" stroke="#231f20" stroke-width="2.0" />
<line x1="784.96" y1="1754.90" x2="809.96" y2="1754.90" stroke="#231f20" stroke-width="2.0" />
<line x1="859.00" y1="1732.90" x2="859.00" y2="1754.90" stroke="#231f20" stroke-width="2.0" />
<line x1="846.50" y1="1732.90" x2="871.50" y2="1732.90" stroke="#231f20" stroke-width="2.0" />
<line x1="846.50" y1="1754.90" x2="871.50" y2="1754.90" stroke="#231f20" stroke-width="2.0" />
<path d="M243.6 1636.3 L244.1 1636.2 L244.6 1636.2 L245.1 1636.2 L245.7 1636.2 L246.2 1636.1 L246.7 1636.1 L247.2 1636.1 L247.7 1636.1 L248.2 1636.0 L248.7 1636.0 L249.2 1636.0 L249.8 1636.0 L250.3 1635.9 L250.8 1635.9 L251.3 1635.9 L251.8 1635.8 L252.3 1635.8 L252.8 1635.8 L253.4 1635.7 L253.9 1635.7 L254.4 1635.7 L254.9 1635.6 L255.4 1635.6 L255.9 1635.6 L256.4 1635.5 L256.9 1635.5 L257.5 1635.5 L258.0 1635.4 L258.5 1635.4 L259.0 1635.3 L259.5 1635.3 L260.0 1635.3 L260.5 1635.2 L261.1 1635.2 L261.6 1635.1 L262.1 1635.1 L262.6 1635.0 L263.1 1635.0 L263.6 1635.0 L264.1 1634.9 L264.6 1634.9 L265.2 1634.8 L265.7 1634.7 L266.2 1634.7 L266.7 1634.6 L267.2 1634.6 L267.7 1634.5 L268.2 1634.5 L268.7 1634.4 L269.3 1634.4 L269.8 1634.3 L270.3 1634.2 L270.8 1634.2 L271.3 1634.1 L271.8 1634.0 L272.3 1634.0 L272.9 1633.9 L273.4 1633.8 L273.9 1633.8 L274.4 1633.7 L274.9 1633.6 L275.4 1633.5 L275.9 1633.5 L276.4 1633.4 L277.0 1633.3 L277.5 1633.2 L278.0 1633.1 L278.5 1633.0 L279.0 1633.0 L279.5 1632.9 L280.0 1632.8 L280.6 1632.7 L281.1 1632.6 L281.6 1632.5 L282.1 1632.4 L282.6 1632.3 L283.1 1632.2 L283.6 1632.1 L284.1 1632.0 L284.7 1631.9 L285.2 1631.8 L285.7 1631.6 L286.2 1631.5 L286.7 1631.4 L287.2 1631.3 L287.7 1631.2 L288.3 1631.0 L288.8 1630.9 L289.3 1630.8 L289.8 1630.7 L290.3 1630.5 L290.8 1630.4 L291.3 1630.2 L291.8 1630.1 L292.4 1630.0 L292.9 1629.8 L293.4 1629.7 L293.9 1629.5 L294.4 1629.3 L294.9 1629.2 L295.4 1629.0 L296.0 1628.8 L296.5 1628.7 L297.0 1628.5 L297.5 1628.3 L298.0 1628.1 L298.5 1628.0 L299.0 1627.8 L299.5 1627.6 L300.1 1627.4 L300.6 1627.2 L301.1 1627.0 L301.6 1626.8 L302.1 1626.6 L302.6 1626.3 L303.1 1626.1 L303.7 1625.9 L304.2 1625.7 L304.7 1625.4 L305.2 1625.2 L305.7 1625.0 L306.2 1624.7 L306.7 1624.5 L307.2 1624.2 L307.8 1624.0 L308.3 1623.7 L308.8 1623.4 L309.3 1623.1 L309.8 1622.9 L310.3 1622.6 L310.8 1622.3 L311.4 1622.0 L311.9 1621.7 L312.4 1621.4 L312.9 1621.1 L313.4 1620.7 L313.9 1620.4 L314.4 1620.1 L314.9 1619.7 L315.5 1619.4 L316.0 1619.0 L316.5 1618.7 L317.0 1618.3 L317.5 1618.0 L318.0 1617.6 L318.5 1617.2 L319.0 1616.8 L319.6 1616.4 L320.1 1616.0 L320.6 1615.6 L321.1 1615.2 L321.6 1614.7 L322.1 1614.3 L322.6 1613.8 L323.2 1613.4 L323.7 1612.9 L324.2 1612.5 L324.7 1612.0 L325.2 1611.5 L325.7 1611.0 L326.2 1610.5 L326.7 1610.0 L327.3 1609.5 L327.8 1608.9 L328.3 1608.4 L328.8 1607.8 L329.3 1607.3 L329.8 1606.7 L330.3 1606.1 L330.9 1605.5 L331.4 1604.9 L331.9 1604.3 L332.4 1603.7 L332.9 1603.1 L333.4 1602.4 L333.9 1601.8 L334.4 1601.1 L335.0 1600.4 L335.5 1599.8 L336.0 1599.1 L336.5 1598.3 L337.0 1597.6 L337.5 1596.9 L338.0 1596.1 L338.6 1595.4 L339.1 1594.6 L339.6 1593.8 L340.1 1593.0 L340.6 1592.2 L341.1 1591.4 L341.6 1590.6 L342.1 1589.7 L342.7 1588.9 L343.2 1588.0 L343.7 1587.1 L344.2 1586.2 L344.7 1585.3 L345.2 1584.4 L345.7 1583.5 L346.3 1582.5 L346.8 1581.5 L347.3 1580.6 L347.8 1579.6 L348.3 1578.6 L348.8 1577.5 L349.3 1576.5 L349.8 1575.4 L350.4 1574.4 L350.9 1573.3 L351.4 1572.2 L351.9 1571.1 L352.4 1569.9 L352.9 1568.8 L353.4 1567.6 L354.0 1566.5 L354.5 1565.3 L355.0 1564.1 L355.5 1562.9 L356.0 1561.6 L356.5 1560.4 L357.0 1559.1 L357.5 1557.8 L358.1 1556.5 L358.6 1555.2 L359.1 1553.9 L359.6 1552.5 L360.1 1551.2 L360.6 1549.8 L361.1 1548.4 L361.7 1547.0 L362.2 1545.6 L362.7 1544.1 L363.2 1542.7 L363.7 1541.2 L364.2 1539.7 L364.7 1538.2 L365.2 1536.7 L365.8 1535.1 L366.3 1533.6 L366.8 1532.0 L367.3 1530.5 L367.8 1528.9 L368.3 1527.3 L368.8 1525.6 L369.3 1524.0 L369.9 1522.3 L370.4 1520.7 L370.9 1519.0 L371.4 1517.3 L371.9 1515.6 L372.4 1513.9 L372.9 1512.2 L373.5 1510.4 L374.0 1508.6 L374.5 1506.9 L375.0 1505.1 L375.5 1503.3 L376.0 1501.5 L376.5 1499.7 L377.0 1497.8 L377.6 1496.0 L378.1 1494.2 L378.6 1492.3 L379.1 1490.4 L379.6 1488.5 L380.1 1486.6 L380.6 1484.7 L381.2 1482.8 L381.7 1480.9 L382.2 1479.0 L382.7 1477.1 L383.2 1475.1 L383.7 1473.2 L384.2 1471.2 L384.7 1469.3 L385.3 1467.3 L385.8 1465.3 L386.3 1463.3 L386.8 1461.4 L387.3 1459.4 L387.8 1457.4 L388.3 1455.4 L388.9 1453.4 L389.4 1451.4 L389.9 1449.4 L390.4 1447.4 L390.9 1445.4 L391.4 1443.4 L391.9 1441.3 L392.4 1439.3 L393.0 1437.3 L393.5 1435.3 L394.0 1433.3 L394.5 1431.3 L395.0 1429.3 L395.5 1427.3 L396.0 1425.3 L396.6 1423.3 L397.1 1421.3 L397.6 1419.3 L398.1 1417.3 L398.6 1415.3 L399.1 1413.4 L399.6 1411.4 L400.1 1409.4 L400.7 1407.5 L401.2 1405.5 L401.7 1403.6 L402.2 1401.6 L402.7 1399.7 L403.2 1397.8 L403.7 1395.9 L404.3 1394.0 L404.8 1392.1 L405.3 1390.2 L405.8 1388.3 L406.3 1386.4 L406.8 1384.6 L407.3 1382.7 L407.8 1380.9 L408.4 1379.0 L408.9 1377.2 L409.4 1375.4 L409.9 1373.6 L410.4 1371.9 L410.9 1370.1 L411.4 1368.3 L411.9 1366.6 L412.5 1364.9 L413.0 1363.1 L413.5 1361.4 L414.0 1359.8 L414.5 1358.1 L415.0 1356.4 L415.5 1354.8 L416.1 1353.1 L416.6 1351.5 L417.1 1349.9 L417.6 1348.3 L418.1 1346.8 L418.6 1345.2 L419.1 1343.7 L419.6 1342.1 L420.2 1340.6 L420.7 1339.1 L421.2 1337.6 L421.7 1336.2 L422.2 1334.7 L422.7 1333.3 L423.2 1331.9 L423.8 1330.5 L424.3 1329.1 L424.8 1327.7 L425.3 1326.3 L425.8 1325.0 L426.3 1323.7 L426.8 1322.4 L427.3 1321.1 L427.9 1319.8 L428.4 1318.5 L428.9 1317.3 L429.4 1316.0 L429.9 1314.8 L430.4 1313.6 L430.9 1312.4 L431.5 1311.3 L432.0 1310.1 L432.5 1309.0 L433.0 1307.8 L433.5 1306.7 L434.0 1305.6 L434.5 1304.6 L435.0 1303.5 L435.6 1302.4 L436.1 1301.4 L436.6 1300.4 L437.1 1299.4 L437.6 1298.4 L438.1 1297.4 L438.6 1296.4 L439.2 1295.5 L439.7 1294.6 L440.2 1293.6 L440.7 1292.7 L441.2 1291.8 L441.7 1291.0 L442.2 1290.1 L442.7 1289.2 L443.3 1288.4 L443.8 1287.6 L444.3 1286.8 L444.8 1285.9 L445.3 1285.2 L445.8 1284.4 L446.3 1283.6 L446.9 1282.9 L447.4 1282.1 L447.9 1281.4 L448.4 1280.7 L448.9 1280.0 L449.4 1279.3 L449.9 1278.6 L450.4 1277.9 L451.0 1277.3 L451.5 1276.6 L452.0 1276.0 L452.5 1275.3 L453.0 1274.7 L453.5 1274.1 L454.0 1273.5 L454.6 1272.9 L455.1 1272.4 L455.6 1271.8 L456.1 1271.2 L456.6 1270.7 L457.1 1270.1 L457.6 1269.6 L458.1 1269.1 L458.7 1268.6 L459.2 1268.1 L459.7 1267.6 L460.2 1267.1 L460.7 1266.6 L461.2 1266.2 L461.7 1265.7 L462.2 1265.3 L462.8 1264.8 L463.3 1264.4 L463.8 1263.9 L464.3 1263.5 L464.8 1263.1 L465.3 1262.7 L465.8 1262.3 L466.4 1261.9 L466.9 1261.5 L467.4 1261.2 L467.9 1260.8 L468.4 1260.4 L468.9 1260.1 L469.4 1259.7 L469.9 1259.4 L470.5 1259.0 L471.0 1258.7 L471.5 1258.4 L472.0 1258.1 L472.5 1257.8 L473.0 1257.4 L473.5 1257.1 L474.1 1256.8 L474.6 1256.6 L475.1 1256.3 L475.6 1256.0 L476.1 1255.7 L476.6 1255.5 L477.1 1255.2 L477.6 1254.9 L478.2 1254.7 L478.7 1254.4 L479.2 1254.2 L479.7 1253.9 L480.2 1253.7 L480.7 1253.5 L481.2 1253.2 L481.8 1253.0 L482.3 1252.8 L482.8 1252.6 L483.3 1252.4 L483.8 1252.2 L484.3 1252.0 L484.8 1251.8 L485.3 1251.6 L485.9 1251.4 L486.4 1251.2 L486.9 1251.0 L487.4 1250.8 L487.9 1250.7 L488.4 1250.5 L488.9 1250.3 L489.5 1250.2 L490.0 1250.0 L490.5 1249.8 L491.0 1249.7 L491.5 1249.5 L492.0 1249.4 L492.5 1249.2 L493.0 1249.1 L493.6 1248.9 L494.1 1248.8 L494.6 1248.7 L495.1 1248.5 L495.6 1248.4 L496.1 1248.3 L496.6 1248.1 L497.2 1248.0 L497.7 1247.9 L498.2 1247.8 L498.7 1247.7 L499.2 1247.5 L499.7 1247.4 L500.2 1247.3 L500.7 1247.2 L501.3 1247.1 L501.8 1247.0 L502.3 1246.9 L502.8 1246.8 L503.3 1246.7 L503.8 1246.6 L504.3 1246.5 L504.8 1246.4 L505.4 1246.3 L505.9 1246.2 L506.4 1246.2 L506.9 1246.1 L507.4 1246.0 L507.9 1245.9 L508.4 1245.8 L509.0 1245.7 L509.5 1245.7 L510.0 1245.6 L510.5 1245.5 L511.0 1245.4 L511.5 1245.4 L512.0 1245.3 L512.5 1245.2 L513.1 1245.2 L513.6 1245.1 L514.1 1245.0 L514.6 1245.0 L515.1 1244.9 L515.6 1244.9 L516.1 1244.8 L516.7 1244.7 L517.2 1244.7 L517.7 1244.6 L518.2 1244.6 L518.7 1244.5 L519.2 1244.5 L519.7 1244.4 L520.2 1244.4 L520.8 1244.3 L521.3 1244.3 L521.8 1244.2 L522.3 1244.2 L522.8 1244.1 L523.3 1244.1 L523.8 1244.0 L524.4 1244.0 L524.9 1244.0 L525.4 1243.9 L525.9 1243.9 L526.4 1243.8 L526.9 1243.8 L527.4 1243.8 L527.9 1243.7 L528.5 1243.7 L529.0 1243.7 L529.5 1243.6 L530.0 1243.6 L530.5 1243.6 L531.0 1243.5 L531.5 1243.5 L532.1 1243.5 L532.6 1243.4 L533.1 1243.4 L533.6 1243.4 L534.1 1243.3 L534.6 1243.3 L535.1 1243.3 L535.6 1243.3 L536.2 1243.2 L536.7 1243.2 L537.2 1243.2 L537.7 1243.2 L538.2 1243.1 L538.7 1243.1 L539.2 1243.1 L539.8 1243.1 L540.3 1243.0 L540.8 1243.0 L541.3 1243.0 L541.8 1243.0 L542.3 1243.0 L542.8 1242.9 L543.3 1242.9 L543.9 1242.9 L544.4 1242.9 L544.9 1242.9 L545.4 1242.9 L545.9 1242.8 L546.4 1242.8 L546.9 1242.8 L547.5 1242.8 L548.0 1242.8 L548.5 1242.8 L549.0 1242.8 L549.5 1242.7 L550.0 1242.7 L550.5 1242.7 L551.0 1242.7 L551.6 1242.7 L552.1 1242.7 L552.6 1242.7 L553.1 1242.7 L553.6 1242.7 L554.1 1242.6 L554.6 1242.6 L555.1 1242.6 L555.7 1242.6 L556.2 1242.6 L556.7 1242.6 L557.2 1242.6 L557.7 1242.6 L558.2 1242.6 L558.7 1242.6 L559.3 1242.6 L559.8 1242.6 L560.3 1242.6 L560.8 1242.6 L561.3 1242.6 L561.8 1242.5 L562.3 1242.5 L562.8 1242.5 L563.4 1242.5 L563.9 1242.5 L564.4 1242.5 L564.9 1242.5 L565.4 1242.5 L565.9 1242.5 L566.4 1242.5 L567.0 1242.5 L567.5 1242.5 L568.0 1242.5 L568.5 1242.5 L569.0 1242.5 L569.5 1242.5 L570.0 1242.5 L570.5 1242.6 L571.1 1242.6 L571.6 1242.6 L572.1 1242.6 L572.6 1242.6 L573.1 1242.6 L573.6 1242.6 L574.1 1242.6 L574.7 1242.6 L575.2 1242.6 L575.7 1242.6 L576.2 1242.6 L576.7 1242.6 L577.2 1242.6 L577.7 1242.7 L578.2 1242.7 L578.8 1242.7 L579.3 1242.7 L579.8 1242.7 L580.3 1242.7 L580.8 1242.7 L581.3 1242.7 L581.8 1242.8 L582.4 1242.8 L582.9 1242.8 L583.4 1242.8 L583.9 1242.8 L584.4 1242.9 L584.9 1242.9 L585.4 1242.9 L585.9 1242.9 L586.5 1242.9 L587.0 1243.0 L587.5 1243.0 L588.0 1243.0 L588.5 1243.0 L589.0 1243.1 L589.5 1243.1 L590.1 1243.1 L590.6 1243.2 L591.1 1243.2 L591.6 1243.2 L592.1 1243.3 L592.6 1243.3 L593.1 1243.3 L593.6 1243.4 L594.2 1243.4 L594.7 1243.5 L595.2 1243.5 L595.7 1243.6 L596.2 1243.6 L596.7 1243.6 L597.2 1243.7 L597.8 1243.7 L598.3 1243.8 L598.8 1243.9 L599.3 1243.9 L599.8 1244.0 L600.3 1244.0 L600.8 1244.1 L601.3 1244.2 L601.9 1244.2 L602.4 1244.3 L602.9 1244.4 L603.4 1244.4 L603.9 1244.5 L604.4 1244.6 L604.9 1244.7 L605.4 1244.8 L606.0 1244.8 L606.5 1244.9 L607.0 1245.0 L607.5 1245.1 L608.0 1245.2 L608.5 1245.3 L609.0 1245.4 L609.6 1245.5 L610.1 1245.6 L610.6 1245.7 L611.1 1245.9 L611.6 1246.0 L612.1 1246.1 L612.6 1246.2 L613.1 1246.4 L613.7 1246.5 L614.2 1246.6 L614.7 1246.8 L615.2 1246.9 L615.7 1247.1 L616.2 1247.2 L616.7 1247.4 L617.3 1247.6 L617.8 1247.7 L618.3 1247.9 L618.8 1248.1 L619.3 1248.3 L619.8 1248.5 L620.3 1248.7 L620.8 1248.9 L621.4 1249.1 L621.9 1249.3 L622.4 1249.6 L622.9 1249.8 L623.4 1250.0 L623.9 1250.3 L624.4 1250.5 L625.0 1250.8 L625.5 1251.1 L626.0 1251.4 L626.5 1251.6 L627.0 1251.9 L627.5 1252.3 L628.0 1252.6 L628.5 1252.9 L629.1 1253.2 L629.6 1253.6 L630.1 1253.9 L630.6 1254.3 L631.1 1254.7 L631.6 1255.1 L632.1 1255.5 L632.7 1255.9 L633.2 1256.3 L633.7 1256.7 L634.2 1257.2 L634.7 1257.6 L635.2 1258.1 L635.7 1258.6 L636.2 1259.1 L636.8 1259.6 L637.3 1260.2 L637.8 1260.7 L638.3 1261.3 L638.8 1261.8 L639.3 1262.4 L639.8 1263.1 L640.4 1263.7 L640.9 1264.3 L641.4 1265.0 L641.9 1265.7 L642.4 1266.4 L642.9 1267.1 L643.4 1267.9 L643.9 1268.6 L644.5 1269.4 L645.0 1270.2 L645.5 1271.1 L646.0 1271.9 L646.5 1272.8 L647.0 1273.7 L647.5 1274.6 L648.0 1275.6 L648.6 1276.6 L649.1 1277.6 L649.6 1278.6 L650.1 1279.7 L650.6 1280.8 L651.1 1281.9 L651.6 1283.0 L652.2 1284.2 L652.7 1285.4 L653.2 1286.7 L653.7 1287.9 L654.2 1289.2 L654.7 1290.6 L655.2 1291.9 L655.7 1293.3 L656.3 1294.8 L656.8 1296.3 L657.3 1297.8 L657.8 1299.3 L658.3 1300.9 L658.8 1302.5 L659.3 1304.2 L659.9 1305.9 L660.4 1307.6 L660.9 1309.4 L661.4 1311.2 L661.9 1313.1 L662.4 1315.0 L662.9 1316.9 L663.4 1318.9 L664.0 1321.0 L664.5 1323.0 L665.0 1325.1 L665.5 1327.3 L666.0 1329.5 L666.5 1331.8 L667.0 1334.1 L667.6 1336.4 L668.1 1338.8 L668.6 1341.2 L669.1 1343.7 L669.6 1346.2 L670.1 1348.8 L670.6 1351.4 L671.1 1354.1 L671.7 1356.8 L672.2 1359.6 L672.7 1362.4 L673.2 1365.2 L673.7 1368.1 L674.2 1371.0 L674.7 1374.0 L675.3 1377.1 L675.8 1380.1 L676.3 1383.2 L676.8 1386.4 L677.3 1389.6 L677.8 1392.9 L678.3 1396.1 L678.8 1399.5 L679.4 1402.8 L679.9 1406.2 L680.4 1409.7 L680.9 1413.1 L681.4 1416.7 L681.9 1420.2 L682.4 1423.8 L683.0 1427.4 L683.5 1431.0 L684.0 1434.7 L684.5 1438.4 L685.0 1442.1 L685.5 1445.9 L686.0 1449.6 L686.5 1453.4 L687.1 1457.2 L687.6 1461.1 L688.1 1464.9 L688.6 1468.8 L689.1 1472.6 L689.6 1476.5 L690.1 1480.4 L690.7 1484.3 L691.2 1488.2 L691.7 1492.1 L692.2 1496.1 L692.7 1500.0 L693.2 1503.9 L693.7 1507.8 L694.2 1511.7 L694.8 1515.6 L695.3 1519.5 L695.8 1523.4 L696.3 1527.2 L696.8 1531.1 L697.3 1534.9 L697.8 1538.7 L698.3 1542.5 L698.9 1546.3 L699.4 1550.0 L699.9 1553.8 L700.4 1557.5 L700.9 1561.2 L701.4 1564.8 L701.9 1568.4 L702.5 1572.0 L703.0 1575.6 L703.5 1579.1 L704.0 1582.6 L704.5 1586.0 L705.0 1589.4 L705.5 1592.8 L706.0 1596.2 L706.6 1599.5 L707.1 1602.7 L707.6 1605.9 L708.1 1609.1 L708.6 1612.2 L709.1 1615.3 L709.6 1618.4 L710.2 1621.4 L710.7 1624.3 L711.2 1627.2 L711.7 1630.1 L712.2 1632.9 L712.7 1635.7 L713.2 1638.4 L713.7 1641.1 L714.3 1643.7 L714.8 1646.3 L715.3 1648.9 L715.8 1651.3 L716.3 1653.8 L716.8 1656.2 L717.3 1658.6 L717.9 1660.9 L718.4 1663.1 L718.9 1665.4 L719.4 1667.5 L719.9 1669.7 L720.4 1671.8 L720.9 1673.8 L721.4 1675.8 L722.0 1677.8 L722.5 1679.7 L723.0 1681.6 L723.5 1683.4 L724.0 1685.2 L724.5 1686.9 L725.0 1688.6 L725.6 1690.3 L726.1 1692.0 L726.6 1693.5 L727.1 1695.1 L727.6 1696.6 L728.1 1698.1 L728.6 1699.6 L729.1 1701.0 L729.7 1702.4 L730.2 1703.7 L730.7 1705.0 L731.2 1706.3 L731.7 1707.6 L732.2 1708.8 L732.7 1710.0 L733.3 1711.1 L733.8 1712.2 L734.3 1713.3 L734.8 1714.4 L735.3 1715.5 L735.8 1716.5 L736.3 1717.5 L736.8 1718.4 L737.4 1719.4 L737.9 1720.3 L738.4 1721.2 L738.9 1722.0 L739.4 1722.9 L739.9 1723.7 L740.4 1724.5 L740.9 1725.3 L741.5 1726.0 L742.0 1726.8 L742.5 1727.5 L743.0 1728.2 L743.5 1728.8 L744.0 1729.5 L744.5 1730.1 L745.1 1730.7 L745.6 1731.4 L746.1 1731.9 L746.6 1732.5 L747.1 1733.1 L747.6 1733.6 L748.1 1734.1 L748.6 1734.6 L749.2 1735.1 L749.7 1735.6 L750.2 1736.1 L750.7 1736.5 L751.2 1737.0 L751.7 1737.4 L752.2 1737.8 L752.8 1738.2 L753.3 1738.6 L753.8 1739.0 L754.3 1739.4 L754.8 1739.7 L755.3 1740.1 L755.8 1740.4 L756.3 1740.7 L756.9 1741.0 L757.4 1741.4 L757.9 1741.7 L758.4 1742.0 L758.9 1742.2 L759.4 1742.5 L759.9 1742.8 L760.5 1743.0 L761.0 1743.3 L761.5 1743.5 L762.0 1743.8 L762.5 1744.0 L763.0 1744.2 L763.5 1744.4 L764.0 1744.7 L764.6 1744.9 L765.1 1745.1 L765.6 1745.3 L766.1 1745.4 L766.6 1745.6 L767.1 1745.8 L767.6 1746.0 L768.2 1746.1 L768.7 1746.3 L769.2 1746.4 L769.7 1746.6 L770.2 1746.7 L770.7 1746.9 L771.2 1747.0 L771.7 1747.2 L772.3 1747.3 L772.8 1747.4 L773.3 1747.5 L773.8 1747.7 L774.3 1747.8 L774.8 1747.9 L775.3 1748.0 L775.9 1748.1 L776.4 1748.2 L776.9 1748.3 L777.4 1748.4 L777.9 1748.5 L778.4 1748.6 L778.9 1748.7 L779.4 1748.8 L780.0 1748.8 L780.5 1748.9 L781.0 1749.0 L781.5 1749.1 L782.0 1749.1 L782.5 1749.2 L783.0 1749.3 L783.6 1749.4 L784.1 1749.4 L784.6 1749.5 L785.1 1749.5 L785.6 1749.6 L786.1 1749.7 L786.6 1749.7 L787.1 1749.8 L787.7 1749.8 L788.2 1749.9 L788.7 1749.9 L789.2 1750.0 L789.7 1750.0 L790.2 1750.1 L790.7 1750.1 L791.2 1750.1 L791.8 1750.2 L792.3 1750.2 L792.8 1750.3 L793.3 1750.3 L793.8 1750.3 L794.3 1750.4 L794.8 1750.4 L795.4 1750.4 L795.9 1750.5 L796.4 1750.5 L796.9 1750.5 L797.4 1750.6 L797.9 1750.6 L798.4 1750.6 L798.9 1750.6 L799.5 1750.7 L800.0 1750.7 L800.5 1750.7 L801.0 1750.7 L801.5 1750.8 L802.0 1750.8 L802.5 1750.8 L803.1 1750.8 L803.6 1750.9 L804.1 1750.9 L804.6 1750.9 L805.1 1750.9 L805.6 1750.9 L806.1 1750.9 L806.6 1751.0 L807.2 1751.0 L807.7 1751.0 L808.2 1751.0 L808.7 1751.0 L809.2 1751.0 L809.7 1751.1 L810.2 1751.1 L810.8 1751.1 L811.3 1751.1 L811.8 1751.1 L812.3 1751.1 L812.8 1751.1 L813.3 1751.1 L813.8 1751.2 L814.3 1751.2 L814.9 1751.2 L815.4 1751.2 L815.9 1751.2 L816.4 1751.2 L816.9 1751.2 L817.4 1751.2 L817.9 1751.2 L818.5 1751.2 L819.0 1751.2 L819.5 1751.3 L820.0 1751.3 L820.5 1751.3 L821.0 1751.3 L821.5 1751.3 L822.0 1751.3 L822.6 1751.3 L823.1 1751.3 L823.6 1751.3 L824.1 1751.3 L824.6 1751.3 L825.1 1751.3 L825.6 1751.3 L826.2 1751.3 L826.7 1751.3 L827.2 1751.3 L827.7 1751.4 L828.2 1751.4 L828.7 1751.4 L829.2 1751.4 L829.7 1751.4 L830.3 1751.4 L830.8 1751.4 L831.3 1751.4 L831.8 1751.4 L832.3 1751.4 L832.8 1751.4 L833.3 1751.4 L833.9 1751.4 L834.4 1751.4 L834.9 1751.4 L835.4 1751.4 L835.9 1751.4 L836.4 1751.4 L836.9 1751.4 L837.4 1751.4 L838.0 1751.4 L838.5 1751.4 L839.0 1751.4 L839.5 1751.4 L840.0 1751.4 L840.5 1751.4 L841.0 1751.4 L841.5 1751.4 L842.1 1751.4 L842.6 1751.4 L843.1 1751.4 L843.6 1751.4 L844.1 1751.4 L844.6 1751.4 L845.1 1751.5 L845.7 1751.5 L846.2 1751.5 L846.7 1751.5 L847.2 1751.5 L847.7 1751.5 L848.2 1751.5 L848.7 1751.5 L849.2 1751.5 L849.8 1751.5 L850.3 1751.5 L850.8 1751.5 L851.3 1751.5 L851.8 1751.5 L852.3 1751.5 L852.8 1751.5 L853.4 1751.5 L853.9 1751.5 L854.4 1751.5 L854.9 1751.5 L855.4 1751.5 L855.9 1751.5 L856.4 1751.5 L856.9 1751.5 L857.5 1751.5 L858.0 1751.5 L858.5 1751.5 L859.0 1751.5" fill="none" stroke="#231f20" stroke-width="7" stroke-dasharray="11.5 23.90" stroke-dashoffset="35.14"/>
<path d="M243.6 1654.2 L245.2 1654.2 L246.7 1654.1 L248.3 1654.0 L249.8 1654.0 L251.4 1653.9 L252.9 1653.8 L254.5 1653.7 L256.0 1653.7 L257.6 1653.6 L259.1 1653.5 L260.7 1653.4 L262.2 1653.3 L263.8 1653.1 L265.3 1653.0 L266.9 1652.9 L268.4 1652.7 L270.0 1652.6 L271.5 1652.4 L273.1 1652.2 L274.6 1652.0 L276.2 1651.8 L277.7 1651.6 L279.3 1651.4 L280.8 1651.2 L282.4 1650.9 L283.9 1650.6 L285.5 1650.4 L287.0 1650.0 L288.6 1649.7 L290.1 1649.4 L291.7 1649.0 L293.2 1648.6 L294.8 1648.2 L296.3 1647.7 L297.9 1647.2 L299.4 1646.7 L301.0 1646.2 L302.5 1645.6 L304.1 1645.0 L305.6 1644.3 L307.2 1643.6 L308.7 1642.9 L310.3 1642.1 L311.8 1641.3 L313.4 1640.4 L314.9 1639.4 L316.5 1638.4 L318.0 1637.4 L319.6 1636.3 L321.1 1635.1 L322.7 1633.8 L324.2 1632.5 L325.8 1631.0 L327.3 1629.5 L328.9 1627.9 L330.4 1626.2 L332.0 1624.5 L333.5 1622.6 L335.1 1620.6 L336.6 1618.5 L338.2 1616.3 L339.7 1614.0 L341.3 1611.5 L342.8 1608.9 L344.4 1606.2 L345.9 1603.4 L347.5 1600.4 L349.0 1597.2 L350.6 1593.9 L352.1 1590.5 L353.7 1586.9 L355.2 1583.2 L356.8 1579.2 L358.3 1575.2 L359.9 1570.9 L361.4 1566.5 L363.0 1562.0 L364.5 1557.2 L366.1 1552.3 L367.6 1547.3 L369.2 1542.1 L370.7 1536.7 L372.3 1531.2 L373.8 1525.5 L375.4 1519.8 L376.9 1513.8 L378.5 1507.8 L380.0 1501.7 L381.6 1495.4 L383.1 1489.1 L384.7 1482.7 L386.2 1476.2 L387.8 1469.7 L389.3 1463.1 L390.9 1456.5 L392.4 1449.9 L394.0 1443.3 L395.5 1436.8 L397.1 1430.2 L398.6 1423.7 L400.2 1417.3 L401.7 1410.9 L403.3 1404.6 L404.8 1398.4 L406.4 1392.3 L407.9 1386.3 L409.5 1380.4 L411.0 1374.7 L412.6 1369.1 L414.1 1363.6 L415.7 1358.3 L417.2 1353.1 L418.8 1348.1 L420.3 1343.3 L421.9 1338.6 L423.4 1334.1 L425.0 1329.8 L426.5 1325.6 L428.1 1321.6 L429.6 1317.7 L431.2 1314.0 L432.7 1310.5 L434.3 1307.1 L435.8 1303.9 L437.4 1300.8 L438.9 1297.8 L440.5 1295.0 L442.0 1292.4 L443.6 1289.8 L445.1 1287.4 L446.7 1285.1 L448.2 1282.9 L449.8 1280.9 L451.3 1278.9 L452.9 1277.1 L454.4 1275.3 L456.0 1273.7 L457.5 1272.1 L459.1 1270.7 L460.6 1269.3 L462.2 1268.0 L463.7 1266.7 L465.3 1265.5 L466.8 1264.4 L468.4 1263.4 L469.9 1262.4 L471.5 1261.5 L473.0 1260.6 L474.6 1259.8 L476.1 1259.0 L477.7 1258.3 L479.2 1257.6 L480.8 1257.0 L482.3 1256.4 L483.9 1255.8 L485.4 1255.3 L487.0 1254.8 L488.5 1254.3 L490.1 1253.9 L491.6 1253.5 L493.2 1253.1 L494.7 1252.7 L496.3 1252.4 L497.8 1252.0 L499.4 1251.7 L500.9 1251.5 L502.5 1251.2 L504.0 1250.9 L505.6 1250.7 L507.1 1250.5 L508.7 1250.3 L510.2 1250.1 L511.8 1249.9 L513.3 1249.7 L514.9 1249.6 L516.4 1249.4 L518.0 1249.3 L519.5 1249.1 L521.1 1249.0 L522.6 1248.9 L524.2 1248.8 L525.7 1248.7 L527.3 1248.6 L528.8 1248.5 L530.4 1248.4 L531.9 1248.3 L533.5 1248.3 L535.0 1248.2 L536.6 1248.1 L538.1 1248.1 L539.7 1248.0 L541.2 1248.0 L542.8 1247.9 L544.3 1247.9 L545.9 1247.8 L547.4 1247.8 L549.0 1247.7 L550.5 1247.7 L552.1 1247.7 L553.6 1247.6 L555.2 1247.6 L556.7 1247.6 L558.3 1247.6 L559.8 1247.5 L561.4 1247.5 L562.9 1247.5 L564.5 1247.5 L566.0 1247.4 L567.6 1247.4 L569.1 1247.4 L570.7 1247.4 L572.2 1247.4 L573.8 1247.4 L575.3 1247.4 L576.9 1247.3 L578.4 1247.3 L580.0 1247.3 L581.5 1247.3 L583.1 1247.3 L584.6 1247.3 L586.2 1247.3 L587.7 1247.3 L589.3 1247.3 L590.8 1247.3 L592.4 1247.3 L593.9 1247.3 L595.5 1247.3 L597.0 1247.3 L598.6 1247.3 L600.1 1247.3 L601.7 1247.3 L603.2 1247.3 L604.8 1247.3 L606.3 1247.3 L607.9 1247.3 L609.4 1247.3 L611.0 1247.4 L612.5 1247.4 L614.1 1247.4 L615.6 1247.5 L617.2 1247.5 L618.7 1247.6 L620.3 1247.7 L621.8 1247.8 L623.4 1247.9 L624.9 1248.0 L626.5 1248.1 L628.0 1248.3 L629.6 1248.5 L631.1 1248.8 L632.7 1249.1 L634.2 1249.4 L635.8 1249.8 L637.3 1250.3 L638.9 1250.9 L640.4 1251.5 L642.0 1252.3 L643.5 1253.3 L645.1 1254.4 L646.6 1255.7 L648.2 1257.3 L649.7 1259.1 L651.3 1261.2 L652.8 1263.7 L654.4 1266.7 L655.9 1270.1 L657.5 1274.1 L659.0 1278.8 L660.6 1284.2 L662.1 1290.4 L663.7 1297.6 L665.2 1305.8 L666.8 1315.1 L668.3 1325.7 L669.9 1337.6 L671.4 1350.8 L673.0 1365.3 L674.5 1381.3 L676.1 1398.5 L677.6 1416.8 L679.2 1436.2 L680.7 1456.4 L682.3 1477.1 L683.8 1498.1 L685.4 1519.0 L686.9 1539.6 L688.5 1559.5 L690.0 1578.6 L691.6 1596.6 L693.1 1613.5 L694.7 1629.0 L696.2 1643.1 L697.8 1655.9 L699.3 1667.4 L700.9 1677.6 L702.4 1686.6 L704.0 1694.5 L705.5 1701.4 L707.1 1707.3 L708.6 1712.5 L710.2 1717.0 L711.7 1720.8 L713.3 1724.1 L714.8 1726.9 L716.4 1729.3 L717.9 1731.3 L719.5 1733.0 L721.0 1734.5 L722.6 1735.8 L724.1 1736.8 L725.7 1737.7 L727.2 1738.5 L728.8 1739.1 L730.3 1739.7 L731.9 1740.1 L733.4 1740.5 L735.0 1740.9 L736.5 1741.1 L738.1 1741.4 L739.6 1741.6 L741.2 1741.7 L742.7 1741.9 L744.3 1742.0 L745.8 1742.1 L747.4 1742.2 L748.9 1742.3 L750.5 1742.3 L752.0 1742.4 L753.6 1742.4 L755.1 1742.5 L756.7 1742.5 L758.2 1742.5 L759.8 1742.5 L761.3 1742.6 L762.9 1742.6 L764.4 1742.6 L766.0 1742.6 L767.5 1742.6 L769.1 1742.6 L770.6 1742.6 L772.2 1742.6 L773.7 1742.6 L775.3 1742.6 L776.8 1742.6 L778.4 1742.6 L779.9 1742.6 L781.5 1742.6 L783.0 1742.6 L784.6 1742.6 L786.1 1742.6 L787.7 1742.6 L789.2 1742.6 L790.8 1742.6 L792.3 1742.6 L793.9 1742.6 L795.4 1742.6 L797.0 1742.6 L798.5 1742.6 L800.1 1742.6 L801.6 1742.7 L803.2 1742.7 L804.7 1742.7 L806.3 1742.7 L807.8 1742.7 L809.4 1742.7 L810.9 1742.7 L812.5 1742.7 L814.0 1742.7 L815.6 1742.7 L817.1 1742.7 L818.7 1742.7 L820.2 1742.7 L821.8 1742.7 L823.3 1742.7 L824.9 1742.7 L826.4 1742.7 L828.0 1742.7 L829.5 1742.7 L831.1 1742.7 L832.6 1742.7 L834.2 1742.7 L835.7 1742.7 L837.3 1742.7 L838.8 1742.7 L840.4 1742.7 L841.9 1742.7 L843.5 1742.7 L845.0 1742.7 L846.6 1742.7 L848.1 1742.7 L849.7 1742.7 L851.2 1742.7 L852.8 1742.7 L854.3 1742.7 L855.9 1742.7 L857.4 1742.7 L859.0 1742.7 L860.5 1742.7 L862.1 1742.7" fill="none" stroke="#231f20" stroke-width="7.4" stroke-linejoin="round"/>
<rect x="232.60" y="1648.00" width="22" height="22" fill="#231f20"/>
<rect x="294.14" y="1629.00" width="22" height="22" fill="#231f20"/>
<rect x="355.68" y="1541.00" width="22" height="22" fill="#231f20"/>
<rect x="417.22" y="1315.30" width="22" height="22" fill="#231f20"/>
<rect x="478.76" y="1240.60" width="22" height="22" fill="#231f20"/>
<rect x="601.84" y="1239.30" width="22" height="22" fill="#231f20"/>
<rect x="663.38" y="1378.00" width="22" height="22" fill="#231f20"/>
<rect x="724.92" y="1730.90" width="22" height="22" fill="#231f20"/>
<rect x="786.46" y="1730.90" width="22" height="22" fill="#231f20"/>
<rect x="848.00" y="1732.90" width="22" height="22" fill="#231f20"/>
<line x1="1734.86" y1="1534.30" x2="1734.86" y2="1627.70" stroke="#4a4647" stroke-width="2.0" />
<line x1="1722.36" y1="1534.30" x2="1747.36" y2="1534.30" stroke="#4a4647" stroke-width="2.0" />
<line x1="1722.36" y1="1627.70" x2="1747.36" y2="1627.70" stroke="#4a4647" stroke-width="2.0" />
<line x1="1799.68" y1="1708.00" x2="1799.68" y2="1741.60" stroke="#4a4647" stroke-width="2.0" />
<line x1="1787.18" y1="1708.00" x2="1812.18" y2="1708.00" stroke="#4a4647" stroke-width="2.0" />
<line x1="1787.18" y1="1741.60" x2="1812.18" y2="1741.60" stroke="#4a4647" stroke-width="2.0" />
<line x1="1670.04" y1="1452.00" x2="1670.04" y2="1510.20" stroke="#4a4647" stroke-width="2.0" />
<line x1="1657.54" y1="1510.20" x2="1682.54" y2="1510.20" stroke="#4a4647" stroke-width="2.0" />
<line x1="1656.54" y1="1452.20" x2="1683.54" y2="1452.20" stroke="#6d6a6b" stroke-width="2.4" />
<line x1="1281.12" y1="1643.50" x2="1281.12" y2="1672.50" stroke="#4a4647" stroke-width="2.0" />
<line x1="1281.12" y1="1643.50" x2="1281.12" y2="1643.50" stroke="#4a4647" stroke-width="2.0" />
<line x1="1281.12" y1="1672.50" x2="1281.12" y2="1672.50" stroke="#4a4647" stroke-width="2.0" />
<line x1="1475.58" y1="1554.00" x2="1475.58" y2="1583.00" stroke="#4a4647" stroke-width="2.0" />
<line x1="1475.58" y1="1554.00" x2="1475.58" y2="1554.00" stroke="#4a4647" stroke-width="2.0" />
<line x1="1475.58" y1="1583.00" x2="1475.58" y2="1583.00" stroke="#4a4647" stroke-width="2.0" />
<line x1="1734.86" y1="1386.50" x2="1734.86" y2="1424.50" stroke="#4a4647" stroke-width="2.0" />
<line x1="1722.36" y1="1386.50" x2="1747.36" y2="1386.50" stroke="#4a4647" stroke-width="2.0" />
<line x1="1722.36" y1="1424.50" x2="1747.36" y2="1424.50" stroke="#4a4647" stroke-width="2.0" />
<line x1="1799.68" y1="1330.00" x2="1799.68" y2="1378.60" stroke="#4a4647" stroke-width="2.0" />
<line x1="1787.18" y1="1330.00" x2="1812.18" y2="1330.00" stroke="#4a4647" stroke-width="2.0" />
<line x1="1787.18" y1="1378.60" x2="1812.18" y2="1378.60" stroke="#4a4647" stroke-width="2.0" />
<line x1="1864.50" y1="1298.70" x2="1864.50" y2="1348.30" stroke="#4a4647" stroke-width="2.0" />
<line x1="1852.00" y1="1298.70" x2="1877.00" y2="1298.70" stroke="#4a4647" stroke-width="2.0" />
<line x1="1852.00" y1="1348.30" x2="1877.00" y2="1348.30" stroke="#4a4647" stroke-width="2.0" />
<line x1="1229.08" y1="1668.13" x2="1268.34" y2="1660.87" stroke="#4d494a" stroke-width="1.4" />
<line x1="1293.40" y1="1654.24" x2="1333.66" y2="1640.26" stroke="#4d494a" stroke-width="1.4" />
<line x1="1357.15" y1="1629.43" x2="1399.55" y2="1604.57" stroke="#4d494a" stroke-width="1.4" />
<line x1="1422.66" y1="1592.77" x2="1463.68" y2="1574.73" stroke="#4d494a" stroke-width="1.4" />
<line x1="1486.76" y1="1562.86" x2="1594.04" y2="1499.14" stroke="#4d494a" stroke-width="1.4" />
<line x1="1618.13" y1="1491.01" x2="1657.13" y2="1486.49" stroke="#4d494a" stroke-width="1.4" />
<line x1="1677.31" y1="1495.77" x2="1727.59" y2="1570.23" stroke="#4d494a" stroke-width="1.4" />
<line x1="1740.20" y1="1592.85" x2="1794.34" y2="1712.95" stroke="#4d494a" stroke-width="1.4" />
<line x1="1812.58" y1="1726.43" x2="1851.60" y2="1731.37" stroke="#4d494a" stroke-width="1.4" />
<line x1="1229.46" y1="1676.73" x2="1267.96" y2="1662.77" stroke="#4d494a" stroke-width="1.4" />
<line x1="1294.28" y1="1653.23" x2="1332.78" y2="1639.27" stroke="#4d494a" stroke-width="1.4" />
<line x1="1358.49" y1="1628.30" x2="1398.21" y2="1608.70" stroke="#4d494a" stroke-width="1.4" />
<line x1="1423.16" y1="1596.00" x2="1463.18" y2="1575.00" stroke="#4d494a" stroke-width="1.4" />
<line x1="1487.77" y1="1561.61" x2="1593.03" y2="1502.09" stroke="#4d494a" stroke-width="1.4" />
<line x1="1617.31" y1="1488.13" x2="1657.95" y2="1464.37" stroke="#4d494a" stroke-width="1.4" />
<line x1="1680.98" y1="1448.56" x2="1723.92" y2="1414.24" stroke="#4d494a" stroke-width="1.4" />
<line x1="1745.85" y1="1396.82" x2="1788.69" y2="1362.98" stroke="#4d494a" stroke-width="1.4" />
<line x1="1812.33" y1="1348.29" x2="1851.85" y2="1329.51" stroke="#4d494a" stroke-width="1.4" />
<rect x="1205.80" y="1660.00" width="21" height="21" fill="#231f20"/>
<rect x="1270.62" y="1648.00" width="21" height="21" fill="#231f20"/>
<rect x="1335.44" y="1625.50" width="21" height="21" fill="#231f20"/>
<rect x="1400.26" y="1587.50" width="21" height="21" fill="#231f20"/>
<rect x="1465.08" y="1559.00" width="21" height="21" fill="#231f20"/>
<rect x="1591.22" y="1482.3" width="28" height="8" rx="2" fill="#231f20"/>
<rect x="1659.54" y="1474.50" width="21" height="21" fill="#231f20"/>
<rect x="1724.36" y="1570.50" width="21" height="21" fill="#231f20"/>
<rect x="1789.18" y="1714.30" width="21" height="21" fill="#231f20"/>
<rect x="1854.00" y="1722.50" width="21" height="21" fill="#231f20"/>
<polygon points="1202.80,1673.30 1229.80,1673.30 1216.30,1695.80" fill="#231f20"/>
<polygon points="1209.00,1677.00 1223.60,1677.00 1216.30,1689.00" fill="#fff"/>
<polygon points="1267.62,1649.80 1294.62,1649.80 1281.12,1672.30" fill="#231f20"/>
<polygon points="1273.82,1653.50 1288.42,1653.50 1281.12,1665.50" fill="#fff"/>
<polygon points="1332.44,1626.30 1359.44,1626.30 1345.94,1648.80" fill="#231f20"/>
<polygon points="1338.64,1630.00 1353.24,1630.00 1345.94,1642.00" fill="#fff"/>
<polygon points="1397.26,1594.30 1424.26,1594.30 1410.76,1616.80" fill="#231f20"/>
<polygon points="1403.46,1598.00 1418.06,1598.00 1410.76,1610.00" fill="#fff"/>
<polygon points="1462.08,1560.30 1489.08,1560.30 1475.58,1582.80" fill="#231f20"/>
<polygon points="1468.28,1564.00 1482.88,1564.00 1475.58,1576.00" fill="#fff"/>
<polygon points="1591.72,1487.00 1618.72,1487.00 1605.22,1509.50" fill="#231f20"/>
<polygon points="1597.92,1490.70 1612.52,1490.70 1605.22,1502.70" fill="#fff"/>
<polygon points="1656.54,1449.10 1683.54,1449.10 1670.04,1471.60" fill="#231f20"/>
<polygon points="1662.74,1452.80 1677.34,1452.80 1670.04,1464.80" fill="#fff"/>
<polygon points="1721.36,1397.30 1748.36,1397.30 1734.86,1419.80" fill="#231f20"/>
<polygon points="1727.56,1401.00 1742.16,1401.00 1734.86,1413.00" fill="#fff"/>
<polygon points="1786.18,1346.10 1813.18,1346.10 1799.68,1368.60" fill="#231f20"/>
<polygon points="1792.38,1349.80 1806.98,1349.80 1799.68,1361.80" fill="#fff"/>
<polygon points="1851.00,1315.30 1878.00,1315.30 1864.50,1337.80" fill="#231f20"/>
<polygon points="1857.20,1319.00 1871.80,1319.00 1864.50,1331.00" fill="#fff"/>
<rect x="1773.5" y="186.5" width="3.5" height="2.5" fill="#231f20"/>
</svg>
</body></html>
